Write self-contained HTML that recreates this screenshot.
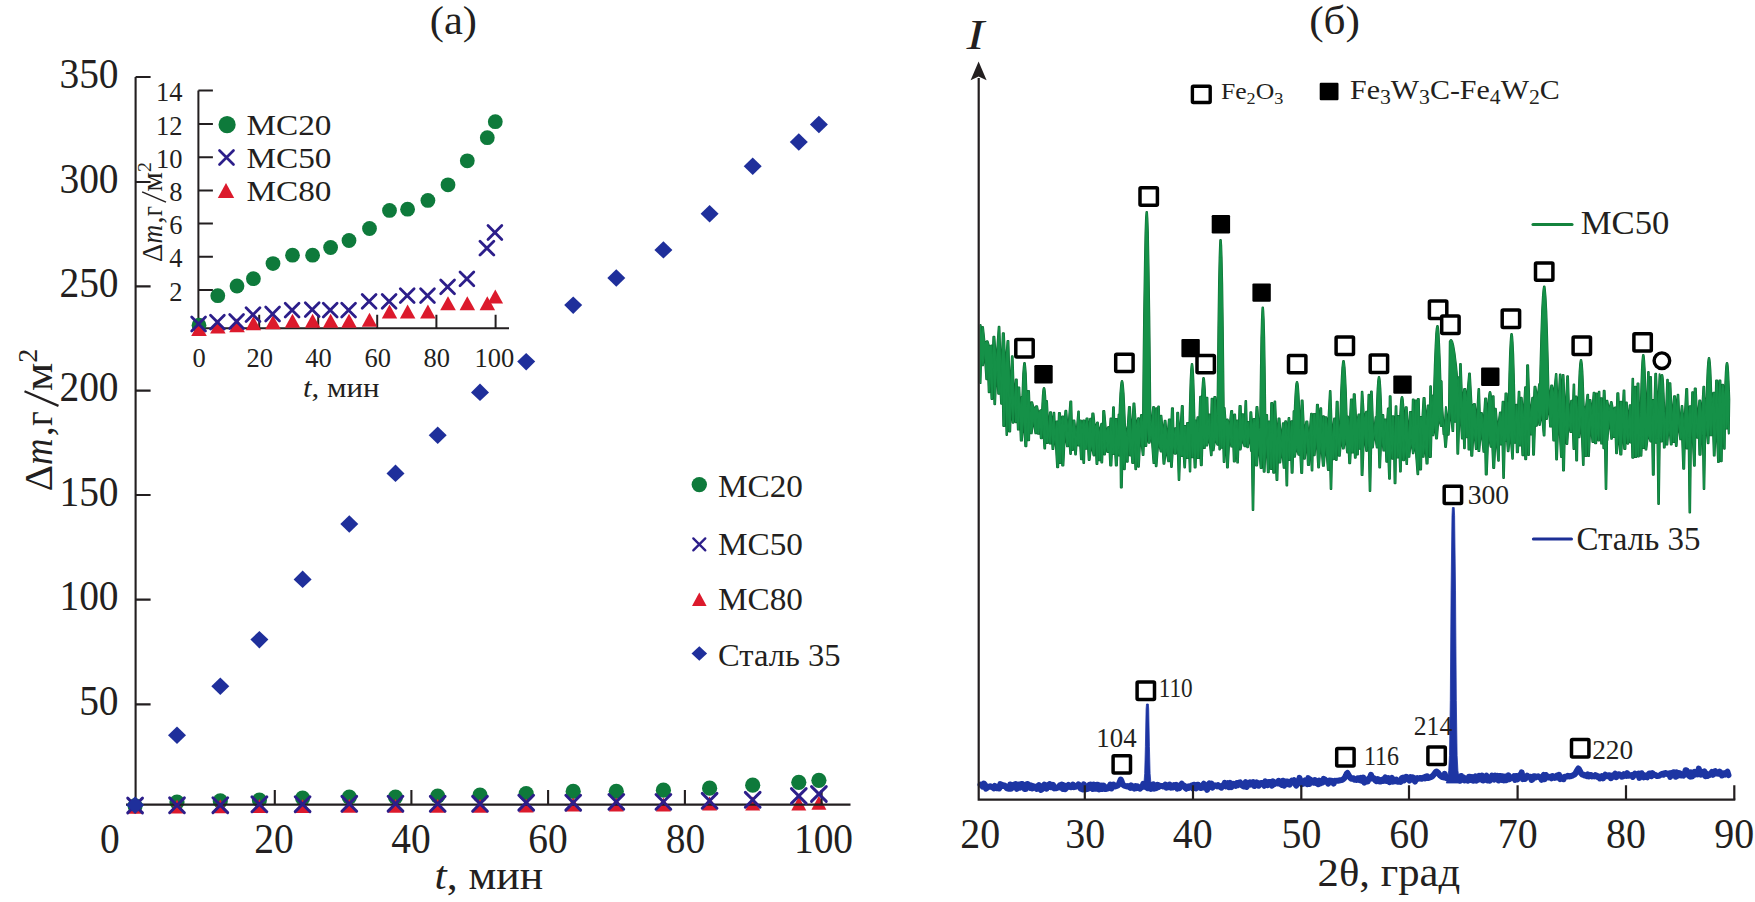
<!DOCTYPE html>
<html lang="ru"><head><meta charset="utf-8"><title>Figure</title>
<style>
html,body{margin:0;padding:0;background:#fff;}
body{width:1755px;height:902px;overflow:hidden;font-family:"Liberation Serif",serif;}
svg{display:block;}
svg text{font-family:"Liberation Serif", serif;fill:#231f20;}
</style></head><body>
<svg width="1755" height="902" viewBox="0 0 1755 902">
<rect width="1755" height="902" fill="#fff"/>
<g id="left">
<circle cx="135.1" cy="805.8" r="7.6" fill="#0e7a3b"/>
<circle cx="177.0" cy="802.1" r="7.6" fill="#0e7a3b"/>
<circle cx="220.3" cy="800.9" r="7.6" fill="#0e7a3b"/>
<circle cx="259.4" cy="800.0" r="7.6" fill="#0e7a3b"/>
<circle cx="302.6" cy="798.1" r="7.6" fill="#0e7a3b"/>
<circle cx="349.3" cy="797.1" r="7.6" fill="#0e7a3b"/>
<circle cx="395.5" cy="797.1" r="7.6" fill="#0e7a3b"/>
<circle cx="437.7" cy="796.1" r="7.6" fill="#0e7a3b"/>
<circle cx="480.0" cy="795.2" r="7.6" fill="#0e7a3b"/>
<circle cx="526.2" cy="793.7" r="7.6" fill="#0e7a3b"/>
<circle cx="573.2" cy="791.4" r="7.6" fill="#0e7a3b"/>
<circle cx="616.3" cy="791.3" r="7.6" fill="#0e7a3b"/>
<circle cx="663.4" cy="790.2" r="7.6" fill="#0e7a3b"/>
<circle cx="709.6" cy="788.2" r="7.6" fill="#0e7a3b"/>
<circle cx="752.7" cy="785.2" r="7.6" fill="#0e7a3b"/>
<circle cx="798.8" cy="782.3" r="7.6" fill="#0e7a3b"/>
<circle cx="818.9" cy="780.3" r="7.6" fill="#0e7a3b"/>
<path d="M135.1 799.8L142.6 813.8L127.6 813.8Z" fill="#dc1a2c"/>
<path d="M177.0 799.5L184.5 813.5L169.5 813.5Z" fill="#dc1a2c"/>
<path d="M220.3 799.3L227.8 813.3L212.8 813.3Z" fill="#dc1a2c"/>
<path d="M259.4 799.1L266.9 813.1L251.9 813.1Z" fill="#dc1a2c"/>
<path d="M302.6 799.0L310.1 813.0L295.1 813.0Z" fill="#dc1a2c"/>
<path d="M349.3 798.8L356.8 812.8L341.8 812.8Z" fill="#dc1a2c"/>
<path d="M395.5 798.8L403.0 812.8L388.0 812.8Z" fill="#dc1a2c"/>
<path d="M437.7 798.8L445.2 812.8L430.2 812.8Z" fill="#dc1a2c"/>
<path d="M480.0 798.8L487.5 812.8L472.5 812.8Z" fill="#dc1a2c"/>
<path d="M526.2 798.6L533.7 812.6L518.7 812.6Z" fill="#dc1a2c"/>
<path d="M573.2 797.6L580.7 811.6L565.7 811.6Z" fill="#dc1a2c"/>
<path d="M616.3 797.6L623.8 811.6L608.8 811.6Z" fill="#dc1a2c"/>
<path d="M663.4 797.6L670.9 811.6L655.9 811.6Z" fill="#dc1a2c"/>
<path d="M709.6 796.6L717.1 810.6L702.1 810.6Z" fill="#dc1a2c"/>
<path d="M752.7 796.6L760.2 810.6L745.2 810.6Z" fill="#dc1a2c"/>
<path d="M798.8 796.6L806.3 810.6L791.3 810.6Z" fill="#dc1a2c"/>
<path d="M818.9 795.7L826.4 809.7L811.4 809.7Z" fill="#dc1a2c"/>
<path d="M135.6 77V804.6M126 804.6H850.5" stroke="#231f20" stroke-width="2.1" fill="none"/>
<path d="M135.6 77h15M135.6 182h15M135.6 286.4h15M135.6 390.6h15M135.6 495h15M135.6 599.6h15M135.6 704.4h15" stroke="#231f20" stroke-width="2.1" fill="none"/>
<path d="M274.8 804.6v-14.5M411.4 804.6v-14.5M548.1 804.6v-14.5M684.9 804.6v-14.5M821.6 804.6v-14.5" stroke="#231f20" stroke-width="2.1" fill="none"/>
<path d="M127.7 798.1L142.5 812.9M127.7 812.9L142.5 798.1" stroke="#2c1e8a" stroke-width="2.9" fill="none" stroke-linecap="round"/>
<path d="M169.6 797.9L184.4 812.7M169.6 812.7L184.4 797.9" stroke="#2c1e8a" stroke-width="2.9" fill="none" stroke-linecap="round"/>
<path d="M212.9 797.8L227.7 812.6M212.9 812.6L227.7 797.8" stroke="#2c1e8a" stroke-width="2.9" fill="none" stroke-linecap="round"/>
<path d="M252.0 796.9L266.8 811.7M252.0 811.7L266.8 796.9" stroke="#2c1e8a" stroke-width="2.9" fill="none" stroke-linecap="round"/>
<path d="M295.2 796.8L310.0 811.6M295.2 811.6L310.0 796.8" stroke="#2c1e8a" stroke-width="2.9" fill="none" stroke-linecap="round"/>
<path d="M341.9 796.4L356.7 811.2M341.9 811.2L356.7 796.4" stroke="#2c1e8a" stroke-width="2.9" fill="none" stroke-linecap="round"/>
<path d="M388.1 796.3L402.9 811.1M388.1 811.1L402.9 796.3" stroke="#2c1e8a" stroke-width="2.9" fill="none" stroke-linecap="round"/>
<path d="M430.3 796.4L445.1 811.2M430.3 811.2L445.1 796.4" stroke="#2c1e8a" stroke-width="2.9" fill="none" stroke-linecap="round"/>
<path d="M472.6 796.4L487.4 811.2M472.6 811.2L487.4 796.4" stroke="#2c1e8a" stroke-width="2.9" fill="none" stroke-linecap="round"/>
<path d="M518.8 795.3L533.6 810.1M518.8 810.1L533.6 795.3" stroke="#2c1e8a" stroke-width="2.9" fill="none" stroke-linecap="round"/>
<path d="M565.8 795.3L580.6 810.1M565.8 810.1L580.6 795.3" stroke="#2c1e8a" stroke-width="2.9" fill="none" stroke-linecap="round"/>
<path d="M608.9 794.5L623.7 809.3M608.9 809.3L623.7 794.5" stroke="#2c1e8a" stroke-width="2.9" fill="none" stroke-linecap="round"/>
<path d="M656.0 794.5L670.8 809.3M656.0 809.3L670.8 794.5" stroke="#2c1e8a" stroke-width="2.9" fill="none" stroke-linecap="round"/>
<path d="M702.2 793.4L717.0 808.2M702.2 808.2L717.0 793.4" stroke="#2c1e8a" stroke-width="2.9" fill="none" stroke-linecap="round"/>
<path d="M745.3 792.4L760.1 807.2M745.3 807.2L760.1 792.4" stroke="#2c1e8a" stroke-width="2.9" fill="none" stroke-linecap="round"/>
<path d="M791.4 788.6L806.2 803.4M791.4 803.4L806.2 788.6" stroke="#2c1e8a" stroke-width="2.9" fill="none" stroke-linecap="round"/>
<path d="M811.5 786.6L826.3 801.4M811.5 801.4L826.3 786.6" stroke="#2c1e8a" stroke-width="2.9" fill="none" stroke-linecap="round"/>
<path d="M135.1 796.4L144.1 805.1L135.1 813.9L126.1 805.1Z" fill="#1f2f9b"/>
<path d="M177.0 726.5L186.0 735.2L177.0 744.0L168.0 735.2Z" fill="#1f2f9b"/>
<path d="M220.3 677.5L229.3 686.3L220.3 695.0L211.3 686.3Z" fill="#1f2f9b"/>
<path d="M259.4 630.9L268.4 639.6L259.4 648.4L250.4 639.6Z" fill="#1f2f9b"/>
<path d="M302.6 570.6L311.6 579.4L302.6 588.1L293.6 579.4Z" fill="#1f2f9b"/>
<path d="M349.3 515.2L358.3 524.0L349.3 532.8L340.3 524.0Z" fill="#1f2f9b"/>
<path d="M395.5 464.6L404.5 473.4L395.5 482.1L386.5 473.4Z" fill="#1f2f9b"/>
<path d="M437.7 426.6L446.7 435.3L437.7 444.1L428.7 435.3Z" fill="#1f2f9b"/>
<path d="M480.0 383.6L489.0 392.4L480.0 401.1L471.0 392.4Z" fill="#1f2f9b"/>
<path d="M526.2 352.9L535.2 361.6L526.2 370.4L517.2 361.6Z" fill="#1f2f9b"/>
<path d="M573.2 296.4L582.2 305.1L573.2 313.9L564.2 305.1Z" fill="#1f2f9b"/>
<path d="M616.3 269.2L625.3 278.0L616.3 286.8L607.3 278.0Z" fill="#1f2f9b"/>
<path d="M663.4 241.2L672.4 249.9L663.4 258.6L654.4 249.9Z" fill="#1f2f9b"/>
<path d="M709.6 205.1L718.6 213.8L709.6 222.6L700.6 213.8Z" fill="#1f2f9b"/>
<path d="M752.7 157.4L761.7 166.2L752.7 174.9L743.7 166.2Z" fill="#1f2f9b"/>
<path d="M798.8 133.3L807.8 142.1L798.8 150.8L789.8 142.1Z" fill="#1f2f9b"/>
<path d="M818.9 115.8L827.9 124.6L818.9 133.3L809.9 124.6Z" fill="#1f2f9b"/>
<text transform="translate(118.6,87.8) scale(0.94,1)" font-size="42" text-anchor="end">350</text>
<text transform="translate(118.6,192.8) scale(0.94,1)" font-size="42" text-anchor="end">300</text>
<text transform="translate(118.6,297.2) scale(0.94,1)" font-size="42" text-anchor="end">250</text>
<text transform="translate(118.6,401.40000000000003) scale(0.94,1)" font-size="42" text-anchor="end">200</text>
<text transform="translate(118.6,505.8) scale(0.94,1)" font-size="42" text-anchor="end">150</text>
<text transform="translate(118.6,610.4) scale(0.94,1)" font-size="42" text-anchor="end">100</text>
<text transform="translate(118.6,715.1999999999999) scale(0.94,1)" font-size="42" text-anchor="end">50</text>
<text transform="translate(109.8,853) scale(0.94,1)" font-size="42" text-anchor="middle">0</text>
<text transform="translate(274,853) scale(0.94,1)" font-size="42" text-anchor="middle">20</text>
<text transform="translate(411,853) scale(0.94,1)" font-size="42" text-anchor="middle">40</text>
<text transform="translate(548,853) scale(0.94,1)" font-size="42" text-anchor="middle">60</text>
<text transform="translate(685.5,853) scale(0.94,1)" font-size="42" text-anchor="middle">80</text>
<text transform="translate(823.5,853) scale(0.94,1)" font-size="42" text-anchor="middle">100</text>
<text transform="translate(453.4,34) scale(1.05,1)" font-size="40.5" text-anchor="middle">(a)</text>
<text x="434.5" y="888.5" font-size="40.5" textLength="108.8" lengthAdjust="spacingAndGlyphs"><tspan font-style="italic">t</tspan>, мин</text>
<g transform="translate(52.1,491.2) rotate(-90) scale(1)" font-size="40.8"><text x="0" y="0">Δ</text><text x="26.2" y="0" font-style="italic" textLength="26.5" lengthAdjust="spacingAndGlyphs">m</text><text x="54.9" y="0">,</text><text x="65.3" y="0" textLength="14.6" lengthAdjust="spacingAndGlyphs">г</text><path d="M85.3 6.4L99.9 -27.6" stroke="#231f20" stroke-width="2.3" fill="none"/><text x="100.2" y="0" textLength="28.2" lengthAdjust="spacingAndGlyphs">м</text><text x="128.4" y="-15.5" font-size="28.3">2</text></g>
<circle cx="699.3" cy="484.6" r="7.7" fill="#0e7a3b"/>
<path d="M693.3 538.4L705.3 550.4M693.3 550.4L705.3 538.4" stroke="#2c1e8a" stroke-width="2.3" fill="none" stroke-linecap="round"/>
<path d="M699.3 592.5L706.6 605.9L692.0 605.9Z" fill="#dc1a2c"/>
<path d="M699.3 646.2L707.1 653.5L699.3 660.8L691.5 653.5Z" fill="#1f2f9b"/>
<text x="718" y="497.4" font-size="32.5" text-anchor="start" textLength="85" lengthAdjust="spacingAndGlyphs">MC20</text>
<text x="718" y="555.4" font-size="32.5" text-anchor="start" textLength="85" lengthAdjust="spacingAndGlyphs">MC50</text>
<text x="718" y="610" font-size="32.5" text-anchor="start" textLength="85" lengthAdjust="spacingAndGlyphs">MC80</text>
<text x="718" y="665.5" font-size="32.5" text-anchor="start" textLength="122.5" lengthAdjust="spacingAndGlyphs">Сталь 35</text>
<path d="M198.4 90.6V328.3M194 328.3H509" stroke="#231f20" stroke-width="2" fill="none"/>
<path d="M198.4 90.6h14.5M198.4 123.9h14.5M198.4 157.2h14.5M198.4 190.4h14.5M198.4 223.6h14.5M198.4 256.8h14.5M198.4 290h14.5" stroke="#231f20" stroke-width="2" fill="none"/>
<path d="M259.2 328.3v-13.5M318.2 328.3v-13.5M377.2 328.3v-13.5M436.4 328.3v-13.5M495.6 328.3v-13.5" stroke="#231f20" stroke-width="2" fill="none"/>
<circle cx="199.0" cy="325.2" r="7.4" fill="#0e7a3b"/>
<circle cx="217.8" cy="295.7" r="7.4" fill="#0e7a3b"/>
<circle cx="237.0" cy="286.0" r="7.4" fill="#0e7a3b"/>
<circle cx="253.4" cy="278.7" r="7.4" fill="#0e7a3b"/>
<circle cx="273.0" cy="263.6" r="7.4" fill="#0e7a3b"/>
<circle cx="292.5" cy="255.2" r="7.4" fill="#0e7a3b"/>
<circle cx="312.6" cy="255.2" r="7.4" fill="#0e7a3b"/>
<circle cx="330.6" cy="247.5" r="7.4" fill="#0e7a3b"/>
<circle cx="349.0" cy="240.5" r="7.4" fill="#0e7a3b"/>
<circle cx="369.5" cy="228.5" r="7.4" fill="#0e7a3b"/>
<circle cx="389.5" cy="210.4" r="7.4" fill="#0e7a3b"/>
<circle cx="407.6" cy="209.2" r="7.4" fill="#0e7a3b"/>
<circle cx="427.9" cy="200.4" r="7.4" fill="#0e7a3b"/>
<circle cx="448.0" cy="184.8" r="7.4" fill="#0e7a3b"/>
<circle cx="467.3" cy="160.8" r="7.4" fill="#0e7a3b"/>
<circle cx="487.3" cy="137.7" r="7.4" fill="#0e7a3b"/>
<circle cx="495.3" cy="121.7" r="7.4" fill="#0e7a3b"/>
<path d="M199.0 322.0L206.8 336.0L191.2 336.0Z" fill="#dc1a2c"/>
<path d="M217.8 319.5L225.6 333.5L210.1 333.5Z" fill="#dc1a2c"/>
<path d="M237.0 318.2L244.8 332.2L229.2 332.2Z" fill="#dc1a2c"/>
<path d="M253.4 316.2L261.1 330.2L245.7 330.2Z" fill="#dc1a2c"/>
<path d="M273.0 315.2L280.8 329.2L265.2 329.2Z" fill="#dc1a2c"/>
<path d="M292.5 313.7L300.2 327.7L284.8 327.7Z" fill="#dc1a2c"/>
<path d="M312.6 313.7L320.4 327.7L304.9 327.7Z" fill="#dc1a2c"/>
<path d="M330.6 313.7L338.4 327.7L322.9 327.7Z" fill="#dc1a2c"/>
<path d="M349.0 313.7L356.8 327.7L341.2 327.7Z" fill="#dc1a2c"/>
<path d="M369.5 312.7L377.2 326.7L361.8 326.7Z" fill="#dc1a2c"/>
<path d="M389.5 304.4L397.2 318.4L381.8 318.4Z" fill="#dc1a2c"/>
<path d="M407.6 304.4L415.4 318.4L399.9 318.4Z" fill="#dc1a2c"/>
<path d="M427.9 304.4L435.6 318.4L420.1 318.4Z" fill="#dc1a2c"/>
<path d="M448.0 296.2L455.8 310.2L440.2 310.2Z" fill="#dc1a2c"/>
<path d="M467.3 296.2L475.1 310.2L459.6 310.2Z" fill="#dc1a2c"/>
<path d="M487.3 296.2L495.1 310.2L479.6 310.2Z" fill="#dc1a2c"/>
<path d="M495.3 289.4L503.1 303.4L487.6 303.4Z" fill="#dc1a2c"/>
<path d="M191.7 317.1L205.5 330.9M191.7 330.9L205.5 317.1" stroke="#2c1e8a" stroke-width="2.8" fill="none" stroke-linecap="round"/>
<path d="M210.5 315.3L224.3 329.1M210.5 329.1L224.3 315.3" stroke="#2c1e8a" stroke-width="2.8" fill="none" stroke-linecap="round"/>
<path d="M229.7 314.6L243.5 328.4M229.7 328.4L243.5 314.6" stroke="#2c1e8a" stroke-width="2.8" fill="none" stroke-linecap="round"/>
<path d="M246.1 307.8L259.9 321.6M246.1 321.6L259.9 307.8" stroke="#2c1e8a" stroke-width="2.8" fill="none" stroke-linecap="round"/>
<path d="M265.7 307.1L279.5 320.9M265.7 320.9L279.5 307.1" stroke="#2c1e8a" stroke-width="2.8" fill="none" stroke-linecap="round"/>
<path d="M285.2 303.3L299.0 317.1M285.2 317.1L299.0 303.3" stroke="#2c1e8a" stroke-width="2.8" fill="none" stroke-linecap="round"/>
<path d="M305.3 302.8L319.1 316.6M305.3 316.6L319.1 302.8" stroke="#2c1e8a" stroke-width="2.8" fill="none" stroke-linecap="round"/>
<path d="M323.3 303.3L337.1 317.1M323.3 317.1L337.1 303.3" stroke="#2c1e8a" stroke-width="2.8" fill="none" stroke-linecap="round"/>
<path d="M341.7 303.3L355.5 317.1M341.7 317.1L355.5 303.3" stroke="#2c1e8a" stroke-width="2.8" fill="none" stroke-linecap="round"/>
<path d="M362.2 294.5L376.0 308.3M362.2 308.3L376.0 294.5" stroke="#2c1e8a" stroke-width="2.8" fill="none" stroke-linecap="round"/>
<path d="M382.2 294.5L396.0 308.3M382.2 308.3L396.0 294.5" stroke="#2c1e8a" stroke-width="2.8" fill="none" stroke-linecap="round"/>
<path d="M400.3 288.8L414.1 302.6M400.3 302.6L414.1 288.8" stroke="#2c1e8a" stroke-width="2.8" fill="none" stroke-linecap="round"/>
<path d="M420.6 288.8L434.4 302.6M420.6 302.6L434.4 288.8" stroke="#2c1e8a" stroke-width="2.8" fill="none" stroke-linecap="round"/>
<path d="M440.7 280.0L454.5 293.8M440.7 293.8L454.5 280.0" stroke="#2c1e8a" stroke-width="2.8" fill="none" stroke-linecap="round"/>
<path d="M460.0 272.0L473.8 285.8M460.0 285.8L473.8 272.0" stroke="#2c1e8a" stroke-width="2.8" fill="none" stroke-linecap="round"/>
<path d="M480.0 241.3L493.8 255.1M480.0 255.1L493.8 241.3" stroke="#2c1e8a" stroke-width="2.8" fill="none" stroke-linecap="round"/>
<path d="M488.0 225.6L501.8 239.4M488.0 239.4L501.8 225.6" stroke="#2c1e8a" stroke-width="2.8" fill="none" stroke-linecap="round"/>
<text x="182.4" y="101.19999999999999" font-size="26.5" text-anchor="end">14</text>
<text x="182.4" y="134.5" font-size="26.5" text-anchor="end">12</text>
<text x="182.4" y="167.79999999999998" font-size="26.5" text-anchor="end">10</text>
<text x="182.4" y="201.0" font-size="26.5" text-anchor="end">8</text>
<text x="182.4" y="234.2" font-size="26.5" text-anchor="end">6</text>
<text x="182.4" y="267.40000000000003" font-size="26.5" text-anchor="end">4</text>
<text x="182.4" y="300.6" font-size="26.5" text-anchor="end">2</text>
<text x="199" y="367.4" font-size="26.5" text-anchor="middle">0</text>
<text x="259.7" y="367.4" font-size="26.5" text-anchor="middle">20</text>
<text x="318.6" y="367.4" font-size="26.5" text-anchor="middle">40</text>
<text x="377.8" y="367.4" font-size="26.5" text-anchor="middle">60</text>
<text x="436.7" y="367.4" font-size="26.5" text-anchor="middle">80</text>
<text x="494.3" y="367.4" font-size="26.5" text-anchor="middle">100</text>
<text x="303" y="397.4" font-size="27.5" textLength="76.4" lengthAdjust="spacingAndGlyphs"><tspan font-style="italic">t</tspan>, мин</text>
<g transform="translate(161.5,262.0) rotate(-90) scale(0.702)" font-size="40.8"><text x="0" y="0">Δ</text><text x="26.2" y="0" font-style="italic" textLength="26.5" lengthAdjust="spacingAndGlyphs">m</text><text x="54.9" y="0">,</text><text x="65.3" y="0" textLength="14.6" lengthAdjust="spacingAndGlyphs">г</text><path d="M85.3 6.4L99.9 -27.6" stroke="#231f20" stroke-width="2.3" fill="none"/><text x="100.2" y="0" textLength="28.2" lengthAdjust="spacingAndGlyphs">м</text><text x="128.4" y="-15.5" font-size="28.3">2</text></g>
<circle cx="227.1" cy="124.7" r="8.6" fill="#0e7a3b"/>
<path d="M219.5 150.5L233.5 164.5M219.5 164.5L233.5 150.5" stroke="#2c1e8a" stroke-width="2.7" fill="none" stroke-linecap="round"/>
<path d="M226.0 183.0L234.2 198.0L217.8 198.0Z" fill="#dc1a2c"/>
<text x="246.5" y="134.7" font-size="30" text-anchor="start" textLength="85" lengthAdjust="spacingAndGlyphs">MC20</text>
<text x="246.5" y="168" font-size="30" text-anchor="start" textLength="85" lengthAdjust="spacingAndGlyphs">MC50</text>
<text x="246.5" y="201.3" font-size="30" text-anchor="start" textLength="85" lengthAdjust="spacingAndGlyphs">MC80</text>
</g>
<g id="right">
<path d="M980.6 325.1L981.4 338.2L982.5 327.0L983.0 327.0L984.7 343.6L986.6 341.3L987.6 341.3L989.1 346.2L991.1 345.6L991.6 345.6L992.4 364.4L993.4 336.8L994.4 336.8L996.2 364.2L998.7 326.8L999.4 326.8L1001.1 376.9L1002.8 333.2L1003.9 333.2L1005.5 369.7L1007.5 341.0L1008.4 341.0L1010.0 397.6L1011.9 356.2L1012.6 356.2L1014.2 403.7L1015.8 379.6L1016.8 379.6L1017.4 406.7L1018.1 387.4L1019.3 387.4L1020.2 408.3L1021.7 396.8L1022.1 406.7L1022.4 395.8L1022.8 384.8L1023.2 373.9L1023.7 367.4L1024.0 364.3L1024.2 363.0L1024.8 363.0L1025.0 364.3L1025.3 367.4L1025.8 373.9L1026.2 384.8L1026.6 395.8L1026.9 406.7L1027.9 390.9L1029.0 390.9L1029.8 413.9L1031.2 402.3L1032.2 402.3L1033.9 409.3L1036.1 406.2L1037.1 406.2L1038.5 413.6L1040.4 410.3L1041.5 410.3L1041.7 419.0L1042.0 411.2L1042.4 403.5L1042.8 395.8L1043.2 391.1L1043.5 388.9L1043.8 388.0L1044.2 388.0L1044.5 388.9L1044.8 391.1L1045.2 395.8L1045.6 403.5L1046.0 411.2L1046.3 419.0L1046.3 401.1L1047.0 401.1L1048.5 432.4L1050.0 412.2L1051.1 412.2L1052.1 430.0L1053.7 412.8L1054.3 412.8L1055.2 434.8L1056.4 421.5L1057.4 421.5L1058.2 430.5L1058.9 413.1L1060.0 413.1L1060.8 425.8L1062.2 416.6L1063.3 416.6L1064.0 425.8L1065.4 410.8L1066.3 410.8L1068.0 432.8L1070.3 401.5L1071.3 401.5L1072.1 432.6L1073.5 420.5L1074.4 420.5L1076.1 437.3L1078.3 411.4L1078.8 411.4L1079.5 434.3L1080.2 420.6L1081.0 420.6L1082.0 429.4L1083.1 420.4L1084.3 420.4L1085.2 427.9L1086.5 418.4L1087.6 418.4L1088.5 432.3L1090.1 418.8L1090.8 418.8L1091.5 433.5L1092.3 413.5L1093.5 413.5L1094.9 428.4L1097.1 422.5L1097.8 422.5L1099.4 433.6L1101.3 423.8L1101.9 423.8L1102.6 440.5L1103.2 411.1L1104.3 411.1L1106.1 432.0L1108.1 427.0L1108.8 427.0L1109.5 435.1L1110.5 418.6L1111.3 418.6L1112.2 435.0L1113.1 407.3L1113.9 407.3L1114.8 444.0L1115.7 419.0L1116.8 419.0L1117.6 434.9L1118.6 414.6L1118.8 430.2L1119.3 417.9L1119.8 405.6L1120.4 393.3L1121.0 385.9L1121.4 382.5L1121.8 381.0L1122.2 381.0L1122.6 382.5L1123.0 385.9L1123.6 393.3L1124.2 405.6L1124.7 417.9L1125.2 430.2L1125.3 426.4L1127.1 436.9L1128.9 407.0L1130.0 407.0L1131.5 438.8L1133.5 403.4L1134.4 403.4L1136.1 427.5L1138.0 418.2L1138.9 418.2L1139.8 430.5L1141.0 415.1L1141.7 415.1L1142.6 425.0L1143.0 420.2L1143.5 368.1L1144.1 316.1L1144.9 264.0L1145.5 232.8L1146.0 218.2L1146.5 212.0L1147.0 212.0L1147.4 218.2L1147.9 232.8L1148.5 264.0L1149.3 316.1L1149.9 368.1L1150.4 420.2L1151.2 427.9L1153.1 407.0L1154.0 407.0L1154.6 437.4L1155.9 408.3L1156.5 408.3L1157.3 438.0L1158.2 406.5L1158.9 406.5L1159.8 440.7L1160.8 415.7L1161.4 415.7L1163.0 434.5L1164.7 420.7L1165.5 420.7L1167.1 440.4L1168.9 419.4L1170.0 419.4L1170.7 438.7L1171.9 408.3L1173.0 408.3L1173.7 443.2L1175.1 428.2L1175.8 428.2L1176.5 436.7L1177.2 412.7L1178.2 412.7L1179.7 440.6L1181.8 406.1L1182.8 406.1L1183.6 437.6L1184.6 426.0L1185.5 426.0L1186.3 442.9L1187.0 423.0L1188.2 423.0L1189.3 428.6L1189.7 412.5L1190.1 396.3L1190.6 380.2L1191.1 370.5L1191.5 365.9L1191.8 364.0L1192.2 364.0L1192.5 365.9L1192.9 370.5L1193.4 380.2L1193.9 396.3L1194.3 412.5L1194.7 428.6L1195.0 420.5L1195.7 420.5L1196.4 427.1L1197.5 417.2L1198.0 417.2L1198.9 431.8L1200.1 396.8L1201.0 396.8L1201.2 426.2L1201.5 414.1L1201.9 402.1L1202.3 390.0L1202.8 382.8L1203.1 379.4L1203.3 378.0L1203.8 378.0L1204.1 379.4L1204.4 382.8L1204.9 390.0L1205.3 402.1L1205.7 414.1L1206.0 426.2L1206.3 397.8L1207.4 397.8L1208.1 426.3L1209.1 414.6L1209.8 414.6L1210.7 437.2L1211.6 398.7L1212.5 398.7L1213.3 432.4L1214.3 397.1L1215.4 397.1L1217.2 426.5L1217.4 415.6L1217.9 371.7L1218.4 327.8L1219.0 283.9L1219.6 257.6L1220.0 245.3L1220.3 240.0L1220.8 240.0L1221.2 245.3L1221.6 257.6L1222.2 283.9L1222.8 327.8L1223.3 371.7L1223.8 415.6L1224.6 407.9L1225.6 421.4L1227.2 419.4L1227.7 419.4L1229.5 427.1L1231.1 411.0L1232.2 411.0L1233.0 437.9L1234.3 414.5L1235.1 414.5L1235.9 429.1L1236.9 420.5L1237.5 420.5L1238.4 438.2L1239.5 405.9L1240.7 405.9L1241.3 424.8L1242.4 414.2L1243.2 414.2L1244.2 435.0L1245.5 401.1L1246.1 401.1L1247.0 430.3L1247.8 421.9L1248.6 421.9L1249.5 436.3L1250.4 412.3L1251.3 412.3L1252.3 428.1L1253.6 418.9L1254.6 418.9L1255.5 426.5L1256.5 406.9L1257.4 406.9L1259.1 430.8L1260.1 427.9L1260.5 397.8L1260.9 367.7L1261.4 337.6L1261.9 319.5L1262.3 311.1L1262.5 307.5L1263.0 307.5L1263.3 311.1L1263.7 319.5L1264.2 337.6L1264.7 367.7L1265.1 397.8L1265.5 427.9L1266.3 414.9L1267.1 414.9L1267.9 439.8L1268.7 421.5L1269.8 421.5L1270.5 433.6L1271.2 403.1L1272.4 403.1L1273.2 434.3L1274.6 401.4L1275.2 401.4L1276.8 440.3L1278.5 418.4L1279.5 418.4L1281.1 442.1L1282.9 423.2L1283.6 423.2L1284.3 436.1L1285.2 421.3L1286.1 421.3L1287.1 435.7L1288.6 418.0L1289.3 418.0L1290.1 441.6L1291.3 421.3L1292.1 421.3L1292.9 440.1L1293.6 411.2L1294.1 428.6L1294.5 417.0L1294.9 405.3L1295.5 393.7L1296.0 386.7L1296.4 383.4L1296.8 382.0L1297.2 382.0L1297.6 383.4L1298.0 386.7L1298.5 393.7L1299.1 405.3L1299.5 417.0L1299.9 428.6L1300.5 435.4L1301.6 400.6L1302.6 400.6L1304.2 434.1L1306.3 421.5L1307.4 421.5L1309.0 439.6L1311.1 413.7L1311.9 413.7L1312.8 434.9L1313.8 413.9L1315.0 413.9L1315.8 430.4L1316.9 404.8L1318.0 404.8L1319.0 428.6L1320.4 408.3L1321.2 408.3L1321.9 434.2L1323.1 416.3L1323.9 416.3L1324.6 437.5L1325.2 417.2L1326.3 417.2L1327.8 431.0L1329.9 391.0L1330.5 391.0L1332.1 440.0L1334.1 418.6L1334.7 418.6L1335.6 437.5L1336.6 401.8L1337.7 401.8L1338.6 437.8L1340.1 423.8L1340.6 408.1L1341.1 392.4L1341.8 376.7L1342.4 367.3L1342.9 362.9L1343.2 361.0L1343.8 361.0L1344.1 362.9L1344.6 367.3L1345.2 376.7L1345.9 392.4L1346.4 408.1L1346.9 423.8L1347.1 416.5L1348.0 416.5L1349.5 429.9L1350.9 399.5L1352.1 399.5L1352.9 429.7L1353.7 394.2L1354.8 394.2L1356.5 425.6L1358.5 414.5L1359.7 414.5L1360.5 429.4L1361.8 391.7L1362.4 391.7L1364.1 420.4L1366.1 411.7L1366.9 411.7L1367.5 431.8L1368.5 394.7L1369.1 394.7L1369.8 424.8L1371.0 391.6L1371.8 391.6L1373.5 437.6L1375.6 417.1L1376.2 417.1L1376.3 424.1L1376.7 412.3L1377.1 400.6L1377.6 388.8L1378.1 381.7L1378.5 378.4L1378.8 377.0L1379.2 377.0L1379.5 378.4L1379.9 381.7L1380.4 388.8L1380.9 400.6L1381.3 412.3L1381.7 424.1L1382.3 415.1L1383.3 415.1L1384.0 431.0L1384.8 419.5L1385.8 419.5L1386.5 430.0L1387.9 408.6L1388.5 408.6L1389.1 438.2L1389.7 396.3L1390.6 396.3L1391.5 434.1L1392.7 416.3L1393.5 416.3L1394.4 443.5L1395.7 406.3L1396.4 406.3L1397.2 444.2L1397.8 416.0L1398.9 416.0L1399.7 426.2L1400.0 418.9L1400.4 411.6L1400.8 404.3L1401.2 399.9L1401.5 397.9L1401.8 397.0L1402.2 397.0L1402.5 397.9L1402.8 399.9L1403.2 404.3L1403.6 411.6L1404.0 418.9L1404.3 426.2L1404.7 435.5L1405.6 407.2L1406.7 407.2L1408.3 439.3L1409.9 412.1L1411.1 412.1L1411.8 435.4L1412.8 399.5L1413.7 399.5L1414.5 426.3L1415.4 400.5L1416.3 400.5L1417.0 426.2L1417.8 398.9L1418.8 398.9L1419.5 428.3L1420.2 417.1L1421.4 417.1L1422.2 421.1L1423.5 398.1L1424.6 398.1L1426.0 425.4L1427.7 405.6L1428.6 405.6L1429.3 430.8L1430.3 386.2L1430.9 386.2L1431.9 417.9L1432.9 395.4L1433.8 404.9L1434.2 385.2L1434.8 365.5L1435.6 345.7L1436.2 333.9L1436.7 328.4L1437.2 326.0L1437.7 326.0L1438.1 328.4L1438.6 333.9L1439.2 345.7L1440.0 365.5L1440.6 385.2L1441.1 404.9L1441.6 381.2L1442.2 407.0L1445.2 447.0L1446.0 447.0L1449.0 407.0L1449.8 341.6L1450.8 340.0L1451.2 340.0L1452.2 341.6L1453.2 345.2L1454.5 352.9L1456.1 365.9L1457.3 378.8L1458.3 391.8L1458.6 377.3L1459.3 412.7L1460.1 363.9L1460.8 363.9L1462.3 407.4L1464.1 389.0L1465.3 389.0L1466.8 400.7L1469.1 373.6L1469.9 373.6L1471.7 407.5L1473.8 403.9L1474.9 403.9L1476.5 423.9L1478.5 389.1L1479.1 389.1L1480.0 419.4L1480.9 412.9L1481.9 412.9L1483.3 427.7L1485.1 398.5L1486.2 398.5L1487.6 421.1L1487.9 413.8L1488.3 406.6L1488.7 399.3L1489.2 394.9L1489.5 392.9L1489.8 392.0L1490.2 392.0L1490.5 392.9L1490.8 394.9L1491.3 399.3L1491.7 406.6L1492.1 413.8L1492.4 421.1L1492.9 396.2L1493.6 396.2L1494.3 424.9L1495.1 408.7L1495.8 408.7L1497.6 430.6L1499.9 412.6L1500.7 412.6L1501.7 421.3L1502.6 401.7L1503.6 401.7L1504.5 427.8L1505.5 393.4L1506.7 393.4L1507.4 425.1L1508.2 402.2L1508.4 414.2L1508.9 394.1L1509.4 374.1L1510.0 354.0L1510.6 342.0L1511.0 336.4L1511.3 334.0L1511.8 334.0L1512.2 336.4L1512.6 342.0L1513.2 354.0L1513.8 374.1L1514.3 394.1L1514.8 414.2L1515.2 428.7L1516.1 404.8L1516.6 404.8L1517.6 418.9L1518.7 391.7L1519.4 391.7L1520.1 427.8L1521.1 397.8L1521.7 397.8L1523.4 419.6L1525.1 387.3L1525.7 387.3L1526.4 413.8L1527.1 365.3L1528.1 365.3L1529.9 418.0L1532.3 397.7L1532.9 397.7L1533.7 405.0L1534.5 386.8L1535.5 386.8L1537.2 399.7L1539.2 384.0L1540.0 384.0L1540.0 385.2L1540.6 360.6L1541.3 335.9L1542.1 311.2L1542.9 296.4L1543.5 289.5L1544.0 286.5L1544.5 286.5L1544.9 289.5L1545.5 296.4L1546.3 311.2L1547.1 335.9L1547.8 360.6L1548.4 385.2L1549.6 403.7L1551.2 385.6L1552.2 385.6L1553.9 395.7L1555.9 374.0L1556.4 374.0L1557.9 412.3L1559.9 374.4L1560.5 374.4L1561.5 413.6L1562.8 375.0L1563.5 375.0L1565.3 421.6L1567.2 376.2L1568.0 376.2L1569.4 422.0L1571.1 400.8L1572.0 400.8L1572.6 415.7L1573.6 384.5L1574.2 384.5L1574.9 420.7L1575.8 396.6L1576.5 396.6L1578.0 419.5L1578.3 405.5L1578.7 394.1L1579.1 382.7L1579.6 371.4L1580.1 364.5L1580.5 361.4L1580.8 360.0L1581.2 360.0L1581.5 361.4L1581.9 364.5L1582.4 371.4L1582.9 382.7L1583.3 394.1L1583.7 405.5L1585.3 412.6L1587.4 394.7L1588.1 394.7L1588.9 422.0L1589.9 400.0L1590.5 400.0L1592.0 415.1L1593.6 392.7L1594.6 392.7L1595.4 413.1L1596.3 393.5L1597.1 393.5L1597.7 422.7L1598.8 391.7L1599.4 391.7L1600.1 419.6L1601.0 398.3L1601.8 398.3L1602.7 421.1L1603.7 390.8L1604.6 390.8L1605.4 411.5L1606.6 400.8L1607.4 400.8L1609.0 410.8L1611.0 402.0L1611.6 402.0L1613.2 410.8L1614.9 407.4L1615.6 407.4L1616.4 421.2L1617.3 393.2L1618.4 393.2L1619.2 414.5L1620.5 401.7L1621.5 401.7L1622.4 417.3L1623.6 390.6L1624.4 390.6L1625.1 420.1L1626.2 402.5L1626.8 402.5L1628.3 425.1L1629.7 405.2L1630.5 405.2L1631.4 429.8L1632.5 378.7L1633.1 378.7L1633.9 431.0L1634.9 386.7L1635.7 386.7L1636.4 417.7L1637.5 383.4L1638.5 383.4L1639.3 423.3L1640.6 412.8L1641.0 398.4L1641.4 383.9L1641.9 369.5L1642.4 360.8L1642.8 356.7L1643.0 355.0L1643.5 355.0L1643.8 356.7L1644.2 360.8L1644.7 369.5L1645.2 383.9L1645.6 398.4L1646.0 412.8L1646.7 417.3L1648.1 372.0L1648.7 372.0L1649.4 416.1L1650.4 376.9L1651.0 376.9L1651.8 422.2L1652.7 400.1L1653.4 400.1L1654.2 412.7L1655.3 373.8L1656.1 373.8L1657.8 414.8L1659.6 374.3L1659.7 411.8L1660.0 402.6L1660.4 393.4L1660.8 384.2L1661.2 378.7L1661.5 376.1L1661.8 375.0L1662.2 375.0L1662.5 376.1L1662.8 378.7L1663.2 384.2L1663.6 393.4L1664.0 402.6L1664.3 411.8L1665.6 423.8L1667.2 379.7L1667.8 379.7L1668.6 426.8L1669.3 383.2L1670.4 383.2L1672.0 421.2L1674.0 396.2L1675.1 396.2L1676.0 414.0L1677.7 394.7L1678.3 394.7L1679.8 428.3L1681.7 405.9L1682.3 405.9L1684.1 428.9L1686.2 389.1L1687.2 389.1L1688.2 422.8L1689.7 406.2L1690.6 406.2L1691.4 422.2L1692.2 392.2L1693.0 392.2L1693.8 422.0L1694.7 388.4L1695.8 388.4L1697.3 423.4L1699.3 400.6L1700.3 400.6L1701.7 417.2L1703.4 386.7L1704.2 386.7L1704.9 415.9L1706.1 398.5L1706.3 406.3L1706.7 394.2L1707.1 382.2L1707.6 370.1L1708.1 362.8L1708.5 359.4L1708.8 358.0L1709.2 358.0L1709.5 359.4L1709.9 362.8L1710.4 370.1L1710.9 382.2L1711.3 394.2L1711.7 406.3L1713.3 392.7L1714.5 392.7L1715.2 413.8L1716.1 380.5L1717.2 380.5L1718.1 408.1L1719.4 380.5L1720.4 380.5L1721.2 402.7L1722.2 384.8L1723.1 384.8L1724.7 399.6L1725.0 390.5L1725.4 381.3L1725.8 372.2L1726.2 366.7L1726.5 364.1L1726.8 363.0L1727.2 363.0L1727.5 364.1L1727.8 366.7L1728.2 372.2L1728.6 381.3L1729.0 390.5L1729.3 399.6L1728.8 433.6L1727.7 416.9L1727.0 428.6L1726.0 428.6L1725.3 405.5L1724.7 448.7L1724.1 448.7L1722.6 413.5L1721.7 461.3L1720.9 461.3L1719.7 418.6L1718.9 462.1L1718.1 462.1L1716.1 418.6L1714.6 455.6L1713.8 455.6L1712.5 412.8L1711.6 435.3L1710.4 435.3L1709.3 419.9L1708.5 443.2L1707.8 443.2L1705.6 415.4L1705.2 435.4L1704.3 489.0L1703.7 489.0L1702.8 435.4L1701.5 427.0L1700.6 454.7L1699.4 454.7L1698.6 428.7L1697.7 437.7L1697.0 437.7L1695.6 418.0L1694.8 465.8L1694.0 465.8L1691.8 418.6L1691.0 437.3L1690.1 512.5L1689.5 512.5L1688.6 437.3L1688.1 432.1L1687.2 448.4L1686.5 448.4L1685.1 430.1L1684.2 468.8L1683.2 468.8L1681.9 431.4L1681.1 439.3L1680.2 439.3L1678.2 420.1L1676.6 445.9L1675.9 445.9L1674.7 429.1L1674.0 442.0L1673.4 442.0L1672.3 426.4L1671.7 444.5L1670.8 444.5L1669.0 423.2L1667.3 444.6L1666.5 444.6L1665.4 419.0L1664.7 447.6L1663.9 447.6L1662.7 415.4L1661.9 441.5L1661.1 441.5L1660.1 431.4L1659.8 438.6L1658.9 504.0L1658.3 504.0L1657.4 438.6L1657.2 422.2L1656.5 442.7L1655.4 442.7L1654.5 419.9L1653.8 474.8L1652.8 474.8L1651.9 423.7L1651.1 441.4L1650.4 441.4L1648.1 434.2L1646.3 449.6L1645.6 449.6L1644.6 428.2L1643.9 448.0L1642.9 448.0L1642.2 436.3L1641.4 455.8L1640.8 455.8L1639.7 429.1L1638.9 456.5L1638.0 456.5L1637.0 433.5L1636.3 456.9L1635.1 456.9L1634.1 419.2L1633.4 457.8L1632.3 457.8L1631.6 427.8L1630.9 442.4L1630.1 442.4L1629.0 427.4L1628.1 443.7L1627.6 443.7L1626.1 430.1L1625.4 448.9L1624.2 448.9L1622.7 422.4L1621.4 454.5L1620.2 454.5L1618.6 429.1L1617.0 453.3L1616.1 453.3L1615.1 420.6L1614.5 436.9L1613.5 436.9L1612.7 425.9L1611.9 438.8L1611.3 438.8L1609.2 416.7L1607.5 440.3L1607.2 436.1L1606.3 489.0L1605.7 489.0L1604.8 436.1L1604.4 448.2L1603.4 448.2L1602.6 416.8L1601.9 443.6L1601.2 443.6L1599.9 413.2L1599.0 440.6L1598.4 440.6L1597.0 428.8L1596.2 443.2L1595.0 443.2L1594.3 415.5L1593.6 441.9L1592.4 441.9L1590.6 421.1L1588.9 456.1L1588.3 456.1L1587.1 416.4L1586.4 456.0L1585.2 456.0L1584.4 412.5L1583.6 465.0L1583.0 465.0L1581.1 415.9L1579.5 437.2L1578.8 437.2L1577.8 414.4L1577.1 460.4L1576.2 460.4L1575.1 415.3L1574.1 448.9L1573.5 448.9L1572.3 414.6L1571.6 432.0L1570.4 432.0L1568.8 420.3L1567.3 443.9L1566.6 443.9L1565.0 425.6L1564.0 470.6L1563.0 470.6L1562.3 421.4L1561.5 457.0L1561.0 457.0L1558.7 411.1L1557.0 459.4L1556.2 459.4L1555.1 421.2L1554.4 440.5L1553.3 440.5L1552.2 413.9L1551.3 426.6L1550.1 426.6L1548.7 401.1L1547.0 418.9L1546.5 418.9L1545.3 403.4L1544.5 435.5L1543.7 435.5L1541.6 410.6L1539.9 425.0L1539.3 425.0L1537.9 411.1L1536.9 425.8L1536.0 425.8L1535.0 425.1L1534.0 454.7L1533.1 454.7L1532.3 415.6L1531.5 434.5L1531.0 434.5L1529.8 421.5L1529.0 455.0L1528.2 455.0L1527.0 429.2L1526.2 459.2L1525.2 459.2L1524.2 423.4L1523.4 455.2L1522.4 455.2L1521.5 435.4L1520.8 445.4L1519.8 445.4L1518.8 433.4L1518.0 452.2L1516.8 452.2L1516.0 422.3L1515.2 442.8L1514.6 442.8L1513.7 431.0L1512.8 458.8L1512.3 458.8L1510.2 430.6L1508.5 451.2L1507.8 451.2L1506.6 434.3L1505.8 441.0L1505.1 441.0L1504.8 441.9L1503.9 478.0L1503.3 478.0L1502.4 441.9L1502.1 436.2L1501.3 444.4L1500.5 444.4L1499.5 423.0L1498.8 460.7L1498.2 460.7L1495.9 431.9L1494.2 467.9L1493.2 467.9L1492.0 439.9L1491.1 446.7L1490.6 446.7L1488.4 432.1L1486.8 474.5L1485.7 474.5L1484.9 432.6L1484.2 451.8L1483.5 451.8L1481.2 428.0L1479.3 451.1L1478.5 451.1L1477.4 426.1L1476.4 449.1L1475.9 449.1L1473.8 426.8L1472.3 455.7L1471.2 455.7L1470.2 417.6L1469.5 449.6L1468.5 449.6L1467.9 412.2L1467.3 437.3L1466.4 437.3L1465.4 417.7L1464.8 448.2L1464.1 448.2L1463.2 419.2L1462.4 438.5L1461.9 438.5L1459.8 404.1L1458.2 453.7L1457.4 453.7L1456.4 401.3L1455.7 421.7L1454.8 421.7L1454.0 403.7L1453.2 431.1L1452.5 431.1L1450.4 407.3L1448.7 434.7L1448.1 434.7L1445.9 407.1L1444.3 434.1L1443.5 434.1L1442.5 416.5L1441.8 426.1L1440.8 426.1L1438.7 416.5L1437.0 438.4L1436.0 438.4L1434.7 422.0L1433.3 435.3L1432.7 435.3L1431.6 428.2L1430.9 457.1L1429.8 457.1L1428.5 426.9L1427.6 463.6L1426.5 463.6L1425.1 439.6L1423.6 456.8L1422.9 456.8L1421.8 427.8L1421.1 469.6L1420.1 469.6L1418.9 428.0L1418.2 474.2L1417.5 474.2L1415.2 442.4L1413.4 453.3L1412.9 453.3L1411.0 439.1L1409.4 456.8L1408.4 456.8L1407.8 443.9L1407.0 464.1L1406.5 464.1L1404.9 438.8L1404.1 460.3L1403.1 460.3L1401.7 435.5L1400.8 471.6L1400.1 471.6L1399.0 442.3L1398.1 457.5L1397.3 457.5L1396.3 433.9L1395.5 483.2L1394.6 483.2L1393.7 431.3L1392.7 458.7L1392.2 458.7L1390.7 440.8L1389.9 478.7L1389.1 478.7L1387.8 444.7L1386.9 461.7L1386.3 461.7L1385.1 431.5L1384.4 450.6L1383.4 450.6L1381.5 432.1L1380.1 467.4L1379.3 467.4L1378.2 427.6L1377.4 447.4L1376.7 447.4L1374.7 431.6L1372.9 447.4L1371.9 447.4L1371.2 447.6L1370.3 491.0L1369.7 491.0L1368.8 447.6L1367.9 426.7L1366.9 450.9L1366.2 450.9L1364.2 430.2L1362.5 475.1L1361.6 475.1L1360.9 431.3L1360.1 448.7L1359.4 448.7L1358.6 427.2L1357.9 454.4L1357.2 454.4L1356.4 437.2L1355.7 457.8L1354.9 457.8L1353.7 435.3L1353.1 452.4L1351.9 452.4L1351.1 445.1L1350.2 463.2L1349.2 463.2L1348.3 441.7L1347.7 452.5L1347.1 452.5L1345.3 436.2L1343.8 448.5L1342.9 448.5L1341.3 436.7L1339.8 455.8L1338.8 455.8L1337.6 437.9L1336.7 460.0L1335.9 460.0L1334.9 435.6L1334.0 459.2L1333.2 459.2L1332.2 449.6L1331.3 489.0L1330.7 489.0L1329.8 449.6L1329.6 444.0L1328.9 470.0L1327.9 470.0L1325.7 442.6L1323.9 465.8L1322.9 465.8L1320.8 440.1L1319.0 467.4L1318.2 467.4L1316.3 433.7L1314.7 455.3L1314.0 455.3L1313.0 434.8L1312.4 470.4L1311.7 470.4L1310.1 432.8L1309.1 465.0L1307.9 465.0L1306.5 436.2L1304.9 458.7L1304.3 458.7L1303.1 439.3L1302.2 473.0L1301.2 473.0L1300.1 450.5L1299.4 454.8L1298.4 454.8L1296.6 446.6L1294.9 456.8L1294.4 456.8L1293.3 448.9L1292.6 472.7L1291.6 472.7L1290.8 442.5L1289.9 460.1L1289.0 460.1L1288.0 440.3L1287.2 485.5L1286.5 485.5L1285.4 440.4L1284.7 467.8L1283.7 467.8L1281.9 446.9L1280.3 462.4L1279.2 462.4L1278.3 443.4L1277.4 479.9L1276.5 479.9L1275.3 444.9L1274.3 472.8L1273.2 472.8L1272.2 440.8L1271.4 468.9L1270.8 468.9L1269.5 440.1L1268.8 472.2L1267.8 472.2L1266.1 433.4L1264.6 471.7L1263.7 471.7L1262.6 443.9L1261.7 468.0L1260.6 468.0L1258.6 440.8L1257.1 465.5L1255.9 465.5L1254.2 448.8L1253.3 510.0L1252.7 510.0L1251.8 448.8L1251.0 451.0L1249.6 432.9L1248.0 447.2L1247.2 447.2L1246.2 435.2L1245.3 446.3L1244.4 446.3L1242.4 438.0L1240.7 449.4L1240.0 449.4L1238.8 436.2L1237.9 462.6L1237.3 462.6L1235.7 439.5L1234.9 461.5L1233.8 461.5L1233.0 437.6L1232.4 446.6L1231.3 446.6L1229.5 435.0L1227.9 467.5L1227.0 467.5L1225.7 425.0L1224.4 462.0L1223.7 462.0L1222.8 428.4L1222.1 447.8L1221.2 447.8L1220.6 430.5L1219.9 449.4L1219.4 449.4L1218.6 422.9L1217.9 444.8L1217.3 444.8L1215.3 438.5L1213.6 450.3L1213.0 450.3L1212.3 437.5L1211.6 455.3L1211.0 455.3L1208.9 435.4L1207.2 445.5L1206.1 445.5L1205.4 437.1L1204.8 448.1L1204.1 448.1L1202.7 435.6L1201.8 465.3L1200.8 465.3L1199.6 441.5L1198.7 458.1L1197.6 458.1L1196.5 443.9L1195.6 467.4L1194.6 467.4L1193.6 442.0L1192.8 457.3L1192.1 457.3L1191.0 433.1L1190.3 471.5L1189.8 471.5L1188.7 442.5L1188.0 458.0L1187.0 458.0L1185.9 449.1L1185.0 467.4L1184.4 467.4L1183.0 444.6L1182.3 456.0L1181.3 456.0L1180.2 451.9L1179.3 480.0L1178.7 480.0L1177.8 451.9L1176.8 442.3L1175.9 453.7L1174.7 453.7L1173.3 443.3L1171.8 466.9L1171.1 466.9L1169.9 445.5L1169.1 461.3L1168.2 461.3L1166.1 448.0L1164.4 463.7L1163.5 463.7L1162.4 444.7L1161.7 451.5L1160.7 451.5L1158.4 441.0L1156.5 466.3L1155.8 466.3L1154.9 441.6L1154.2 463.1L1153.5 463.1L1151.4 433.7L1149.6 442.8L1148.6 442.8L1147.2 422.5L1146.3 445.9L1145.3 445.9L1144.4 428.9L1143.5 454.9L1142.7 454.9L1140.5 432.5L1138.9 466.8L1138.1 466.8L1136.9 443.2L1136.1 469.3L1135.4 469.3L1134.1 440.4L1133.3 463.0L1132.2 463.0L1131.2 446.1L1130.5 455.5L1129.9 455.5L1128.6 435.9L1127.7 461.8L1127.0 461.8L1125.6 447.9L1124.8 469.2L1124.1 469.2L1122.7 448.3L1121.8 487.6L1120.8 487.6L1120.3 438.3L1119.6 455.6L1119.0 455.6L1117.6 445.4L1116.9 465.4L1115.8 465.4L1114.8 445.9L1114.0 454.0L1112.8 454.0L1112.1 448.1L1111.4 465.5L1110.2 465.5L1109.1 442.7L1108.4 452.0L1107.3 452.0L1105.9 440.6L1105.0 454.4L1104.2 454.4L1102.9 441.3L1102.2 462.5L1101.4 462.5L1100.5 432.6L1099.9 460.3L1099.0 460.3L1098.1 433.3L1097.4 464.0L1096.5 464.0L1095.2 430.4L1094.2 455.4L1093.5 455.4L1091.4 443.9L1089.6 460.0L1088.7 460.0L1087.5 437.4L1086.7 448.7L1085.5 448.7L1084.8 434.9L1084.1 462.9L1083.4 462.9L1082.5 432.3L1081.8 459.3L1081.0 459.3L1079.8 439.0L1079.2 445.5L1078.1 445.5L1076.8 440.6L1075.9 454.4L1075.2 454.4L1074.0 437.3L1073.0 449.9L1072.2 449.9L1071.5 433.9L1070.9 454.0L1070.3 454.0L1068.8 435.6L1068.0 446.3L1067.0 446.3L1065.0 431.0L1063.4 465.5L1062.2 465.5L1061.5 438.2L1060.6 463.1L1059.8 463.1L1058.9 427.8L1058.2 467.2L1057.1 467.2L1055.2 433.1L1053.3 449.1L1052.5 449.1L1051.5 427.4L1050.6 443.6L1049.9 443.6L1048.8 428.7L1048.0 442.9L1046.9 442.9L1045.8 425.9L1045.1 448.4L1044.4 448.4L1042.8 420.9L1041.9 438.3L1040.8 438.3L1039.7 423.5L1038.9 433.7L1037.9 433.7L1037.0 418.1L1036.3 433.3L1035.4 433.3L1033.3 418.9L1031.7 433.3L1030.8 433.3L1029.7 414.1L1029.1 440.3L1027.9 440.3L1027.1 417.5L1026.4 446.2L1025.3 446.2L1023.5 416.6L1021.9 440.6L1020.8 440.6L1019.5 409.2L1018.6 429.6L1017.9 429.6L1017.0 407.8L1016.2 422.2L1015.5 422.2L1014.2 397.3L1013.5 422.7L1012.7 422.7L1011.1 399.1L1010.2 431.4L1009.0 431.4L1007.9 391.6L1007.0 434.9L1006.5 434.9L1005.3 388.4L1004.4 425.9L1003.3 425.9L1002.5 383.9L1001.8 403.7L1001.1 403.7L1000.0 379.7L999.3 393.8L998.2 393.8L996.7 364.3L995.1 404.3L994.4 404.3L993.2 357.2L992.3 398.9L991.5 398.9L990.3 369.5L989.4 392.2L988.7 392.2L987.7 361.5L987.1 379.2L986.3 379.2L984.5 351.0L983.0 365.3L982.4 365.3L981.3 354.7L980.5 383.1Z" fill="#0b6a31" stroke="#0b6a31" stroke-width="2.0" stroke-linejoin="round"/>
<path d="M980.6 325.1L981.4 338.2L982.5 327.0L983.0 327.0L984.7 343.6L986.6 341.3L987.6 341.3L989.1 346.2L991.1 345.6L991.6 345.6L992.4 364.4L993.4 336.8L994.4 336.8L996.2 364.2L998.7 326.8L999.4 326.8L1001.1 376.9L1002.8 333.2L1003.9 333.2L1005.5 369.7L1007.5 341.0L1008.4 341.0L1010.0 397.6L1011.9 356.2L1012.6 356.2L1014.2 403.7L1015.8 379.6L1016.8 379.6L1017.4 406.7L1018.1 387.4L1019.3 387.4L1020.2 408.3L1021.7 396.8L1022.1 406.7L1022.4 395.8L1022.8 384.8L1023.2 373.9L1023.7 367.4L1024.0 364.3L1024.2 363.0L1024.8 363.0L1025.0 364.3L1025.3 367.4L1025.8 373.9L1026.2 384.8L1026.6 395.8L1026.9 406.7L1027.9 390.9L1029.0 390.9L1029.8 413.9L1031.2 402.3L1032.2 402.3L1033.9 409.3L1036.1 406.2L1037.1 406.2L1038.5 413.6L1040.4 410.3L1041.5 410.3L1041.7 419.0L1042.0 411.2L1042.4 403.5L1042.8 395.8L1043.2 391.1L1043.5 388.9L1043.8 388.0L1044.2 388.0L1044.5 388.9L1044.8 391.1L1045.2 395.8L1045.6 403.5L1046.0 411.2L1046.3 419.0L1046.3 401.1L1047.0 401.1L1048.5 432.4L1050.0 412.2L1051.1 412.2L1052.1 430.0L1053.7 412.8L1054.3 412.8L1055.2 434.8L1056.4 421.5L1057.4 421.5L1058.2 430.5L1058.9 413.1L1060.0 413.1L1060.8 425.8L1062.2 416.6L1063.3 416.6L1064.0 425.8L1065.4 410.8L1066.3 410.8L1068.0 432.8L1070.3 401.5L1071.3 401.5L1072.1 432.6L1073.5 420.5L1074.4 420.5L1076.1 437.3L1078.3 411.4L1078.8 411.4L1079.5 434.3L1080.2 420.6L1081.0 420.6L1082.0 429.4L1083.1 420.4L1084.3 420.4L1085.2 427.9L1086.5 418.4L1087.6 418.4L1088.5 432.3L1090.1 418.8L1090.8 418.8L1091.5 433.5L1092.3 413.5L1093.5 413.5L1094.9 428.4L1097.1 422.5L1097.8 422.5L1099.4 433.6L1101.3 423.8L1101.9 423.8L1102.6 440.5L1103.2 411.1L1104.3 411.1L1106.1 432.0L1108.1 427.0L1108.8 427.0L1109.5 435.1L1110.5 418.6L1111.3 418.6L1112.2 435.0L1113.1 407.3L1113.9 407.3L1114.8 444.0L1115.7 419.0L1116.8 419.0L1117.6 434.9L1118.6 414.6L1118.8 430.2L1119.3 417.9L1119.8 405.6L1120.4 393.3L1121.0 385.9L1121.4 382.5L1121.8 381.0L1122.2 381.0L1122.6 382.5L1123.0 385.9L1123.6 393.3L1124.2 405.6L1124.7 417.9L1125.2 430.2L1125.3 426.4L1127.1 436.9L1128.9 407.0L1130.0 407.0L1131.5 438.8L1133.5 403.4L1134.4 403.4L1136.1 427.5L1138.0 418.2L1138.9 418.2L1139.8 430.5L1141.0 415.1L1141.7 415.1L1142.6 425.0L1143.0 420.2L1143.5 368.1L1144.1 316.1L1144.9 264.0L1145.5 232.8L1146.0 218.2L1146.5 212.0L1147.0 212.0L1147.4 218.2L1147.9 232.8L1148.5 264.0L1149.3 316.1L1149.9 368.1L1150.4 420.2L1151.2 427.9L1153.1 407.0L1154.0 407.0L1154.6 437.4L1155.9 408.3L1156.5 408.3L1157.3 438.0L1158.2 406.5L1158.9 406.5L1159.8 440.7L1160.8 415.7L1161.4 415.7L1163.0 434.5L1164.7 420.7L1165.5 420.7L1167.1 440.4L1168.9 419.4L1170.0 419.4L1170.7 438.7L1171.9 408.3L1173.0 408.3L1173.7 443.2L1175.1 428.2L1175.8 428.2L1176.5 436.7L1177.2 412.7L1178.2 412.7L1179.7 440.6L1181.8 406.1L1182.8 406.1L1183.6 437.6L1184.6 426.0L1185.5 426.0L1186.3 442.9L1187.0 423.0L1188.2 423.0L1189.3 428.6L1189.7 412.5L1190.1 396.3L1190.6 380.2L1191.1 370.5L1191.5 365.9L1191.8 364.0L1192.2 364.0L1192.5 365.9L1192.9 370.5L1193.4 380.2L1193.9 396.3L1194.3 412.5L1194.7 428.6L1195.0 420.5L1195.7 420.5L1196.4 427.1L1197.5 417.2L1198.0 417.2L1198.9 431.8L1200.1 396.8L1201.0 396.8L1201.2 426.2L1201.5 414.1L1201.9 402.1L1202.3 390.0L1202.8 382.8L1203.1 379.4L1203.3 378.0L1203.8 378.0L1204.1 379.4L1204.4 382.8L1204.9 390.0L1205.3 402.1L1205.7 414.1L1206.0 426.2L1206.3 397.8L1207.4 397.8L1208.1 426.3L1209.1 414.6L1209.8 414.6L1210.7 437.2L1211.6 398.7L1212.5 398.7L1213.3 432.4L1214.3 397.1L1215.4 397.1L1217.2 426.5L1217.4 415.6L1217.9 371.7L1218.4 327.8L1219.0 283.9L1219.6 257.6L1220.0 245.3L1220.3 240.0L1220.8 240.0L1221.2 245.3L1221.6 257.6L1222.2 283.9L1222.8 327.8L1223.3 371.7L1223.8 415.6L1224.6 407.9L1225.6 421.4L1227.2 419.4L1227.7 419.4L1229.5 427.1L1231.1 411.0L1232.2 411.0L1233.0 437.9L1234.3 414.5L1235.1 414.5L1235.9 429.1L1236.9 420.5L1237.5 420.5L1238.4 438.2L1239.5 405.9L1240.7 405.9L1241.3 424.8L1242.4 414.2L1243.2 414.2L1244.2 435.0L1245.5 401.1L1246.1 401.1L1247.0 430.3L1247.8 421.9L1248.6 421.9L1249.5 436.3L1250.4 412.3L1251.3 412.3L1252.3 428.1L1253.6 418.9L1254.6 418.9L1255.5 426.5L1256.5 406.9L1257.4 406.9L1259.1 430.8L1260.1 427.9L1260.5 397.8L1260.9 367.7L1261.4 337.6L1261.9 319.5L1262.3 311.1L1262.5 307.5L1263.0 307.5L1263.3 311.1L1263.7 319.5L1264.2 337.6L1264.7 367.7L1265.1 397.8L1265.5 427.9L1266.3 414.9L1267.1 414.9L1267.9 439.8L1268.7 421.5L1269.8 421.5L1270.5 433.6L1271.2 403.1L1272.4 403.1L1273.2 434.3L1274.6 401.4L1275.2 401.4L1276.8 440.3L1278.5 418.4L1279.5 418.4L1281.1 442.1L1282.9 423.2L1283.6 423.2L1284.3 436.1L1285.2 421.3L1286.1 421.3L1287.1 435.7L1288.6 418.0L1289.3 418.0L1290.1 441.6L1291.3 421.3L1292.1 421.3L1292.9 440.1L1293.6 411.2L1294.1 428.6L1294.5 417.0L1294.9 405.3L1295.5 393.7L1296.0 386.7L1296.4 383.4L1296.8 382.0L1297.2 382.0L1297.6 383.4L1298.0 386.7L1298.5 393.7L1299.1 405.3L1299.5 417.0L1299.9 428.6L1300.5 435.4L1301.6 400.6L1302.6 400.6L1304.2 434.1L1306.3 421.5L1307.4 421.5L1309.0 439.6L1311.1 413.7L1311.9 413.7L1312.8 434.9L1313.8 413.9L1315.0 413.9L1315.8 430.4L1316.9 404.8L1318.0 404.8L1319.0 428.6L1320.4 408.3L1321.2 408.3L1321.9 434.2L1323.1 416.3L1323.9 416.3L1324.6 437.5L1325.2 417.2L1326.3 417.2L1327.8 431.0L1329.9 391.0L1330.5 391.0L1332.1 440.0L1334.1 418.6L1334.7 418.6L1335.6 437.5L1336.6 401.8L1337.7 401.8L1338.6 437.8L1340.1 423.8L1340.6 408.1L1341.1 392.4L1341.8 376.7L1342.4 367.3L1342.9 362.9L1343.2 361.0L1343.8 361.0L1344.1 362.9L1344.6 367.3L1345.2 376.7L1345.9 392.4L1346.4 408.1L1346.9 423.8L1347.1 416.5L1348.0 416.5L1349.5 429.9L1350.9 399.5L1352.1 399.5L1352.9 429.7L1353.7 394.2L1354.8 394.2L1356.5 425.6L1358.5 414.5L1359.7 414.5L1360.5 429.4L1361.8 391.7L1362.4 391.7L1364.1 420.4L1366.1 411.7L1366.9 411.7L1367.5 431.8L1368.5 394.7L1369.1 394.7L1369.8 424.8L1371.0 391.6L1371.8 391.6L1373.5 437.6L1375.6 417.1L1376.2 417.1L1376.3 424.1L1376.7 412.3L1377.1 400.6L1377.6 388.8L1378.1 381.7L1378.5 378.4L1378.8 377.0L1379.2 377.0L1379.5 378.4L1379.9 381.7L1380.4 388.8L1380.9 400.6L1381.3 412.3L1381.7 424.1L1382.3 415.1L1383.3 415.1L1384.0 431.0L1384.8 419.5L1385.8 419.5L1386.5 430.0L1387.9 408.6L1388.5 408.6L1389.1 438.2L1389.7 396.3L1390.6 396.3L1391.5 434.1L1392.7 416.3L1393.5 416.3L1394.4 443.5L1395.7 406.3L1396.4 406.3L1397.2 444.2L1397.8 416.0L1398.9 416.0L1399.7 426.2L1400.0 418.9L1400.4 411.6L1400.8 404.3L1401.2 399.9L1401.5 397.9L1401.8 397.0L1402.2 397.0L1402.5 397.9L1402.8 399.9L1403.2 404.3L1403.6 411.6L1404.0 418.9L1404.3 426.2L1404.7 435.5L1405.6 407.2L1406.7 407.2L1408.3 439.3L1409.9 412.1L1411.1 412.1L1411.8 435.4L1412.8 399.5L1413.7 399.5L1414.5 426.3L1415.4 400.5L1416.3 400.5L1417.0 426.2L1417.8 398.9L1418.8 398.9L1419.5 428.3L1420.2 417.1L1421.4 417.1L1422.2 421.1L1423.5 398.1L1424.6 398.1L1426.0 425.4L1427.7 405.6L1428.6 405.6L1429.3 430.8L1430.3 386.2L1430.9 386.2L1431.9 417.9L1432.9 395.4L1433.8 404.9L1434.2 385.2L1434.8 365.5L1435.6 345.7L1436.2 333.9L1436.7 328.4L1437.2 326.0L1437.7 326.0L1438.1 328.4L1438.6 333.9L1439.2 345.7L1440.0 365.5L1440.6 385.2L1441.1 404.9L1441.6 381.2L1442.2 407.0L1445.2 447.0L1446.0 447.0L1449.0 407.0L1449.8 341.6L1450.8 340.0L1451.2 340.0L1452.2 341.6L1453.2 345.2L1454.5 352.9L1456.1 365.9L1457.3 378.8L1458.3 391.8L1458.6 377.3L1459.3 412.7L1460.1 363.9L1460.8 363.9L1462.3 407.4L1464.1 389.0L1465.3 389.0L1466.8 400.7L1469.1 373.6L1469.9 373.6L1471.7 407.5L1473.8 403.9L1474.9 403.9L1476.5 423.9L1478.5 389.1L1479.1 389.1L1480.0 419.4L1480.9 412.9L1481.9 412.9L1483.3 427.7L1485.1 398.5L1486.2 398.5L1487.6 421.1L1487.9 413.8L1488.3 406.6L1488.7 399.3L1489.2 394.9L1489.5 392.9L1489.8 392.0L1490.2 392.0L1490.5 392.9L1490.8 394.9L1491.3 399.3L1491.7 406.6L1492.1 413.8L1492.4 421.1L1492.9 396.2L1493.6 396.2L1494.3 424.9L1495.1 408.7L1495.8 408.7L1497.6 430.6L1499.9 412.6L1500.7 412.6L1501.7 421.3L1502.6 401.7L1503.6 401.7L1504.5 427.8L1505.5 393.4L1506.7 393.4L1507.4 425.1L1508.2 402.2L1508.4 414.2L1508.9 394.1L1509.4 374.1L1510.0 354.0L1510.6 342.0L1511.0 336.4L1511.3 334.0L1511.8 334.0L1512.2 336.4L1512.6 342.0L1513.2 354.0L1513.8 374.1L1514.3 394.1L1514.8 414.2L1515.2 428.7L1516.1 404.8L1516.6 404.8L1517.6 418.9L1518.7 391.7L1519.4 391.7L1520.1 427.8L1521.1 397.8L1521.7 397.8L1523.4 419.6L1525.1 387.3L1525.7 387.3L1526.4 413.8L1527.1 365.3L1528.1 365.3L1529.9 418.0L1532.3 397.7L1532.9 397.7L1533.7 405.0L1534.5 386.8L1535.5 386.8L1537.2 399.7L1539.2 384.0L1540.0 384.0L1540.0 385.2L1540.6 360.6L1541.3 335.9L1542.1 311.2L1542.9 296.4L1543.5 289.5L1544.0 286.5L1544.5 286.5L1544.9 289.5L1545.5 296.4L1546.3 311.2L1547.1 335.9L1547.8 360.6L1548.4 385.2L1549.6 403.7L1551.2 385.6L1552.2 385.6L1553.9 395.7L1555.9 374.0L1556.4 374.0L1557.9 412.3L1559.9 374.4L1560.5 374.4L1561.5 413.6L1562.8 375.0L1563.5 375.0L1565.3 421.6L1567.2 376.2L1568.0 376.2L1569.4 422.0L1571.1 400.8L1572.0 400.8L1572.6 415.7L1573.6 384.5L1574.2 384.5L1574.9 420.7L1575.8 396.6L1576.5 396.6L1578.0 419.5L1578.3 405.5L1578.7 394.1L1579.1 382.7L1579.6 371.4L1580.1 364.5L1580.5 361.4L1580.8 360.0L1581.2 360.0L1581.5 361.4L1581.9 364.5L1582.4 371.4L1582.9 382.7L1583.3 394.1L1583.7 405.5L1585.3 412.6L1587.4 394.7L1588.1 394.7L1588.9 422.0L1589.9 400.0L1590.5 400.0L1592.0 415.1L1593.6 392.7L1594.6 392.7L1595.4 413.1L1596.3 393.5L1597.1 393.5L1597.7 422.7L1598.8 391.7L1599.4 391.7L1600.1 419.6L1601.0 398.3L1601.8 398.3L1602.7 421.1L1603.7 390.8L1604.6 390.8L1605.4 411.5L1606.6 400.8L1607.4 400.8L1609.0 410.8L1611.0 402.0L1611.6 402.0L1613.2 410.8L1614.9 407.4L1615.6 407.4L1616.4 421.2L1617.3 393.2L1618.4 393.2L1619.2 414.5L1620.5 401.7L1621.5 401.7L1622.4 417.3L1623.6 390.6L1624.4 390.6L1625.1 420.1L1626.2 402.5L1626.8 402.5L1628.3 425.1L1629.7 405.2L1630.5 405.2L1631.4 429.8L1632.5 378.7L1633.1 378.7L1633.9 431.0L1634.9 386.7L1635.7 386.7L1636.4 417.7L1637.5 383.4L1638.5 383.4L1639.3 423.3L1640.6 412.8L1641.0 398.4L1641.4 383.9L1641.9 369.5L1642.4 360.8L1642.8 356.7L1643.0 355.0L1643.5 355.0L1643.8 356.7L1644.2 360.8L1644.7 369.5L1645.2 383.9L1645.6 398.4L1646.0 412.8L1646.7 417.3L1648.1 372.0L1648.7 372.0L1649.4 416.1L1650.4 376.9L1651.0 376.9L1651.8 422.2L1652.7 400.1L1653.4 400.1L1654.2 412.7L1655.3 373.8L1656.1 373.8L1657.8 414.8L1659.6 374.3L1659.7 411.8L1660.0 402.6L1660.4 393.4L1660.8 384.2L1661.2 378.7L1661.5 376.1L1661.8 375.0L1662.2 375.0L1662.5 376.1L1662.8 378.7L1663.2 384.2L1663.6 393.4L1664.0 402.6L1664.3 411.8L1665.6 423.8L1667.2 379.7L1667.8 379.7L1668.6 426.8L1669.3 383.2L1670.4 383.2L1672.0 421.2L1674.0 396.2L1675.1 396.2L1676.0 414.0L1677.7 394.7L1678.3 394.7L1679.8 428.3L1681.7 405.9L1682.3 405.9L1684.1 428.9L1686.2 389.1L1687.2 389.1L1688.2 422.8L1689.7 406.2L1690.6 406.2L1691.4 422.2L1692.2 392.2L1693.0 392.2L1693.8 422.0L1694.7 388.4L1695.8 388.4L1697.3 423.4L1699.3 400.6L1700.3 400.6L1701.7 417.2L1703.4 386.7L1704.2 386.7L1704.9 415.9L1706.1 398.5L1706.3 406.3L1706.7 394.2L1707.1 382.2L1707.6 370.1L1708.1 362.8L1708.5 359.4L1708.8 358.0L1709.2 358.0L1709.5 359.4L1709.9 362.8L1710.4 370.1L1710.9 382.2L1711.3 394.2L1711.7 406.3L1713.3 392.7L1714.5 392.7L1715.2 413.8L1716.1 380.5L1717.2 380.5L1718.1 408.1L1719.4 380.5L1720.4 380.5L1721.2 402.7L1722.2 384.8L1723.1 384.8L1724.7 399.6L1725.0 390.5L1725.4 381.3L1725.8 372.2L1726.2 366.7L1726.5 364.1L1726.8 363.0L1727.2 363.0L1727.5 364.1L1727.8 366.7L1728.2 372.2L1728.6 381.3L1729.0 390.5L1729.3 399.6L1728.8 433.6L1727.7 416.9L1727.0 428.6L1726.0 428.6L1725.3 405.5L1724.7 448.7L1724.1 448.7L1722.6 413.5L1721.7 461.3L1720.9 461.3L1719.7 418.6L1718.9 462.1L1718.1 462.1L1716.1 418.6L1714.6 455.6L1713.8 455.6L1712.5 412.8L1711.6 435.3L1710.4 435.3L1709.3 419.9L1708.5 443.2L1707.8 443.2L1705.6 415.4L1705.2 435.4L1704.3 489.0L1703.7 489.0L1702.8 435.4L1701.5 427.0L1700.6 454.7L1699.4 454.7L1698.6 428.7L1697.7 437.7L1697.0 437.7L1695.6 418.0L1694.8 465.8L1694.0 465.8L1691.8 418.6L1691.0 437.3L1690.1 512.5L1689.5 512.5L1688.6 437.3L1688.1 432.1L1687.2 448.4L1686.5 448.4L1685.1 430.1L1684.2 468.8L1683.2 468.8L1681.9 431.4L1681.1 439.3L1680.2 439.3L1678.2 420.1L1676.6 445.9L1675.9 445.9L1674.7 429.1L1674.0 442.0L1673.4 442.0L1672.3 426.4L1671.7 444.5L1670.8 444.5L1669.0 423.2L1667.3 444.6L1666.5 444.6L1665.4 419.0L1664.7 447.6L1663.9 447.6L1662.7 415.4L1661.9 441.5L1661.1 441.5L1660.1 431.4L1659.8 438.6L1658.9 504.0L1658.3 504.0L1657.4 438.6L1657.2 422.2L1656.5 442.7L1655.4 442.7L1654.5 419.9L1653.8 474.8L1652.8 474.8L1651.9 423.7L1651.1 441.4L1650.4 441.4L1648.1 434.2L1646.3 449.6L1645.6 449.6L1644.6 428.2L1643.9 448.0L1642.9 448.0L1642.2 436.3L1641.4 455.8L1640.8 455.8L1639.7 429.1L1638.9 456.5L1638.0 456.5L1637.0 433.5L1636.3 456.9L1635.1 456.9L1634.1 419.2L1633.4 457.8L1632.3 457.8L1631.6 427.8L1630.9 442.4L1630.1 442.4L1629.0 427.4L1628.1 443.7L1627.6 443.7L1626.1 430.1L1625.4 448.9L1624.2 448.9L1622.7 422.4L1621.4 454.5L1620.2 454.5L1618.6 429.1L1617.0 453.3L1616.1 453.3L1615.1 420.6L1614.5 436.9L1613.5 436.9L1612.7 425.9L1611.9 438.8L1611.3 438.8L1609.2 416.7L1607.5 440.3L1607.2 436.1L1606.3 489.0L1605.7 489.0L1604.8 436.1L1604.4 448.2L1603.4 448.2L1602.6 416.8L1601.9 443.6L1601.2 443.6L1599.9 413.2L1599.0 440.6L1598.4 440.6L1597.0 428.8L1596.2 443.2L1595.0 443.2L1594.3 415.5L1593.6 441.9L1592.4 441.9L1590.6 421.1L1588.9 456.1L1588.3 456.1L1587.1 416.4L1586.4 456.0L1585.2 456.0L1584.4 412.5L1583.6 465.0L1583.0 465.0L1581.1 415.9L1579.5 437.2L1578.8 437.2L1577.8 414.4L1577.1 460.4L1576.2 460.4L1575.1 415.3L1574.1 448.9L1573.5 448.9L1572.3 414.6L1571.6 432.0L1570.4 432.0L1568.8 420.3L1567.3 443.9L1566.6 443.9L1565.0 425.6L1564.0 470.6L1563.0 470.6L1562.3 421.4L1561.5 457.0L1561.0 457.0L1558.7 411.1L1557.0 459.4L1556.2 459.4L1555.1 421.2L1554.4 440.5L1553.3 440.5L1552.2 413.9L1551.3 426.6L1550.1 426.6L1548.7 401.1L1547.0 418.9L1546.5 418.9L1545.3 403.4L1544.5 435.5L1543.7 435.5L1541.6 410.6L1539.9 425.0L1539.3 425.0L1537.9 411.1L1536.9 425.8L1536.0 425.8L1535.0 425.1L1534.0 454.7L1533.1 454.7L1532.3 415.6L1531.5 434.5L1531.0 434.5L1529.8 421.5L1529.0 455.0L1528.2 455.0L1527.0 429.2L1526.2 459.2L1525.2 459.2L1524.2 423.4L1523.4 455.2L1522.4 455.2L1521.5 435.4L1520.8 445.4L1519.8 445.4L1518.8 433.4L1518.0 452.2L1516.8 452.2L1516.0 422.3L1515.2 442.8L1514.6 442.8L1513.7 431.0L1512.8 458.8L1512.3 458.8L1510.2 430.6L1508.5 451.2L1507.8 451.2L1506.6 434.3L1505.8 441.0L1505.1 441.0L1504.8 441.9L1503.9 478.0L1503.3 478.0L1502.4 441.9L1502.1 436.2L1501.3 444.4L1500.5 444.4L1499.5 423.0L1498.8 460.7L1498.2 460.7L1495.9 431.9L1494.2 467.9L1493.2 467.9L1492.0 439.9L1491.1 446.7L1490.6 446.7L1488.4 432.1L1486.8 474.5L1485.7 474.5L1484.9 432.6L1484.2 451.8L1483.5 451.8L1481.2 428.0L1479.3 451.1L1478.5 451.1L1477.4 426.1L1476.4 449.1L1475.9 449.1L1473.8 426.8L1472.3 455.7L1471.2 455.7L1470.2 417.6L1469.5 449.6L1468.5 449.6L1467.9 412.2L1467.3 437.3L1466.4 437.3L1465.4 417.7L1464.8 448.2L1464.1 448.2L1463.2 419.2L1462.4 438.5L1461.9 438.5L1459.8 404.1L1458.2 453.7L1457.4 453.7L1456.4 401.3L1455.7 421.7L1454.8 421.7L1454.0 403.7L1453.2 431.1L1452.5 431.1L1450.4 407.3L1448.7 434.7L1448.1 434.7L1445.9 407.1L1444.3 434.1L1443.5 434.1L1442.5 416.5L1441.8 426.1L1440.8 426.1L1438.7 416.5L1437.0 438.4L1436.0 438.4L1434.7 422.0L1433.3 435.3L1432.7 435.3L1431.6 428.2L1430.9 457.1L1429.8 457.1L1428.5 426.9L1427.6 463.6L1426.5 463.6L1425.1 439.6L1423.6 456.8L1422.9 456.8L1421.8 427.8L1421.1 469.6L1420.1 469.6L1418.9 428.0L1418.2 474.2L1417.5 474.2L1415.2 442.4L1413.4 453.3L1412.9 453.3L1411.0 439.1L1409.4 456.8L1408.4 456.8L1407.8 443.9L1407.0 464.1L1406.5 464.1L1404.9 438.8L1404.1 460.3L1403.1 460.3L1401.7 435.5L1400.8 471.6L1400.1 471.6L1399.0 442.3L1398.1 457.5L1397.3 457.5L1396.3 433.9L1395.5 483.2L1394.6 483.2L1393.7 431.3L1392.7 458.7L1392.2 458.7L1390.7 440.8L1389.9 478.7L1389.1 478.7L1387.8 444.7L1386.9 461.7L1386.3 461.7L1385.1 431.5L1384.4 450.6L1383.4 450.6L1381.5 432.1L1380.1 467.4L1379.3 467.4L1378.2 427.6L1377.4 447.4L1376.7 447.4L1374.7 431.6L1372.9 447.4L1371.9 447.4L1371.2 447.6L1370.3 491.0L1369.7 491.0L1368.8 447.6L1367.9 426.7L1366.9 450.9L1366.2 450.9L1364.2 430.2L1362.5 475.1L1361.6 475.1L1360.9 431.3L1360.1 448.7L1359.4 448.7L1358.6 427.2L1357.9 454.4L1357.2 454.4L1356.4 437.2L1355.7 457.8L1354.9 457.8L1353.7 435.3L1353.1 452.4L1351.9 452.4L1351.1 445.1L1350.2 463.2L1349.2 463.2L1348.3 441.7L1347.7 452.5L1347.1 452.5L1345.3 436.2L1343.8 448.5L1342.9 448.5L1341.3 436.7L1339.8 455.8L1338.8 455.8L1337.6 437.9L1336.7 460.0L1335.9 460.0L1334.9 435.6L1334.0 459.2L1333.2 459.2L1332.2 449.6L1331.3 489.0L1330.7 489.0L1329.8 449.6L1329.6 444.0L1328.9 470.0L1327.9 470.0L1325.7 442.6L1323.9 465.8L1322.9 465.8L1320.8 440.1L1319.0 467.4L1318.2 467.4L1316.3 433.7L1314.7 455.3L1314.0 455.3L1313.0 434.8L1312.4 470.4L1311.7 470.4L1310.1 432.8L1309.1 465.0L1307.9 465.0L1306.5 436.2L1304.9 458.7L1304.3 458.7L1303.1 439.3L1302.2 473.0L1301.2 473.0L1300.1 450.5L1299.4 454.8L1298.4 454.8L1296.6 446.6L1294.9 456.8L1294.4 456.8L1293.3 448.9L1292.6 472.7L1291.6 472.7L1290.8 442.5L1289.9 460.1L1289.0 460.1L1288.0 440.3L1287.2 485.5L1286.5 485.5L1285.4 440.4L1284.7 467.8L1283.7 467.8L1281.9 446.9L1280.3 462.4L1279.2 462.4L1278.3 443.4L1277.4 479.9L1276.5 479.9L1275.3 444.9L1274.3 472.8L1273.2 472.8L1272.2 440.8L1271.4 468.9L1270.8 468.9L1269.5 440.1L1268.8 472.2L1267.8 472.2L1266.1 433.4L1264.6 471.7L1263.7 471.7L1262.6 443.9L1261.7 468.0L1260.6 468.0L1258.6 440.8L1257.1 465.5L1255.9 465.5L1254.2 448.8L1253.3 510.0L1252.7 510.0L1251.8 448.8L1251.0 451.0L1249.6 432.9L1248.0 447.2L1247.2 447.2L1246.2 435.2L1245.3 446.3L1244.4 446.3L1242.4 438.0L1240.7 449.4L1240.0 449.4L1238.8 436.2L1237.9 462.6L1237.3 462.6L1235.7 439.5L1234.9 461.5L1233.8 461.5L1233.0 437.6L1232.4 446.6L1231.3 446.6L1229.5 435.0L1227.9 467.5L1227.0 467.5L1225.7 425.0L1224.4 462.0L1223.7 462.0L1222.8 428.4L1222.1 447.8L1221.2 447.8L1220.6 430.5L1219.9 449.4L1219.4 449.4L1218.6 422.9L1217.9 444.8L1217.3 444.8L1215.3 438.5L1213.6 450.3L1213.0 450.3L1212.3 437.5L1211.6 455.3L1211.0 455.3L1208.9 435.4L1207.2 445.5L1206.1 445.5L1205.4 437.1L1204.8 448.1L1204.1 448.1L1202.7 435.6L1201.8 465.3L1200.8 465.3L1199.6 441.5L1198.7 458.1L1197.6 458.1L1196.5 443.9L1195.6 467.4L1194.6 467.4L1193.6 442.0L1192.8 457.3L1192.1 457.3L1191.0 433.1L1190.3 471.5L1189.8 471.5L1188.7 442.5L1188.0 458.0L1187.0 458.0L1185.9 449.1L1185.0 467.4L1184.4 467.4L1183.0 444.6L1182.3 456.0L1181.3 456.0L1180.2 451.9L1179.3 480.0L1178.7 480.0L1177.8 451.9L1176.8 442.3L1175.9 453.7L1174.7 453.7L1173.3 443.3L1171.8 466.9L1171.1 466.9L1169.9 445.5L1169.1 461.3L1168.2 461.3L1166.1 448.0L1164.4 463.7L1163.5 463.7L1162.4 444.7L1161.7 451.5L1160.7 451.5L1158.4 441.0L1156.5 466.3L1155.8 466.3L1154.9 441.6L1154.2 463.1L1153.5 463.1L1151.4 433.7L1149.6 442.8L1148.6 442.8L1147.2 422.5L1146.3 445.9L1145.3 445.9L1144.4 428.9L1143.5 454.9L1142.7 454.9L1140.5 432.5L1138.9 466.8L1138.1 466.8L1136.9 443.2L1136.1 469.3L1135.4 469.3L1134.1 440.4L1133.3 463.0L1132.2 463.0L1131.2 446.1L1130.5 455.5L1129.9 455.5L1128.6 435.9L1127.7 461.8L1127.0 461.8L1125.6 447.9L1124.8 469.2L1124.1 469.2L1122.7 448.3L1121.8 487.6L1120.8 487.6L1120.3 438.3L1119.6 455.6L1119.0 455.6L1117.6 445.4L1116.9 465.4L1115.8 465.4L1114.8 445.9L1114.0 454.0L1112.8 454.0L1112.1 448.1L1111.4 465.5L1110.2 465.5L1109.1 442.7L1108.4 452.0L1107.3 452.0L1105.9 440.6L1105.0 454.4L1104.2 454.4L1102.9 441.3L1102.2 462.5L1101.4 462.5L1100.5 432.6L1099.9 460.3L1099.0 460.3L1098.1 433.3L1097.4 464.0L1096.5 464.0L1095.2 430.4L1094.2 455.4L1093.5 455.4L1091.4 443.9L1089.6 460.0L1088.7 460.0L1087.5 437.4L1086.7 448.7L1085.5 448.7L1084.8 434.9L1084.1 462.9L1083.4 462.9L1082.5 432.3L1081.8 459.3L1081.0 459.3L1079.8 439.0L1079.2 445.5L1078.1 445.5L1076.8 440.6L1075.9 454.4L1075.2 454.4L1074.0 437.3L1073.0 449.9L1072.2 449.9L1071.5 433.9L1070.9 454.0L1070.3 454.0L1068.8 435.6L1068.0 446.3L1067.0 446.3L1065.0 431.0L1063.4 465.5L1062.2 465.5L1061.5 438.2L1060.6 463.1L1059.8 463.1L1058.9 427.8L1058.2 467.2L1057.1 467.2L1055.2 433.1L1053.3 449.1L1052.5 449.1L1051.5 427.4L1050.6 443.6L1049.9 443.6L1048.8 428.7L1048.0 442.9L1046.9 442.9L1045.8 425.9L1045.1 448.4L1044.4 448.4L1042.8 420.9L1041.9 438.3L1040.8 438.3L1039.7 423.5L1038.9 433.7L1037.9 433.7L1037.0 418.1L1036.3 433.3L1035.4 433.3L1033.3 418.9L1031.7 433.3L1030.8 433.3L1029.7 414.1L1029.1 440.3L1027.9 440.3L1027.1 417.5L1026.4 446.2L1025.3 446.2L1023.5 416.6L1021.9 440.6L1020.8 440.6L1019.5 409.2L1018.6 429.6L1017.9 429.6L1017.0 407.8L1016.2 422.2L1015.5 422.2L1014.2 397.3L1013.5 422.7L1012.7 422.7L1011.1 399.1L1010.2 431.4L1009.0 431.4L1007.9 391.6L1007.0 434.9L1006.5 434.9L1005.3 388.4L1004.4 425.9L1003.3 425.9L1002.5 383.9L1001.8 403.7L1001.1 403.7L1000.0 379.7L999.3 393.8L998.2 393.8L996.7 364.3L995.1 404.3L994.4 404.3L993.2 357.2L992.3 398.9L991.5 398.9L990.3 369.5L989.4 392.2L988.7 392.2L987.7 361.5L987.1 379.2L986.3 379.2L984.5 351.0L983.0 365.3L982.4 365.3L981.3 354.7L980.5 383.1Z" fill="#159148" stroke="#159148" stroke-width="1.0" stroke-linejoin="round"/>
<path d="M980.5 784.6L981.6 785.3L982.7 786.7L983.8 783.5L984.9 784.8L986.0 788.6L987.1 787.8L988.2 786.8L989.3 786.8L990.4 786.2L991.5 787.0L992.6 787.4L993.7 788.3L994.8 786.0L995.9 788.1L997.0 788.3L998.1 787.7L999.2 788.4L1000.3 784.1L1001.4 784.7L1002.5 785.9L1003.6 785.2L1004.7 785.6L1005.8 786.7L1006.9 788.3L1008.0 788.5L1009.1 788.8L1010.2 784.5L1011.3 788.7L1012.4 786.6L1013.5 784.8L1014.6 786.7L1015.7 784.0L1016.8 788.9L1017.9 787.9L1019.0 784.5L1020.1 787.7L1021.2 784.0L1022.3 784.0L1023.4 785.5L1024.5 788.9L1025.6 789.0L1026.7 784.2L1027.8 784.0L1028.9 785.9L1030.0 787.8L1031.1 785.5L1032.2 788.5L1033.3 786.2L1034.4 787.2L1035.5 786.8L1036.6 788.8L1037.7 786.1L1038.8 785.1L1039.9 789.0L1041.0 790.0L1042.1 789.1L1043.2 785.9L1044.3 784.6L1045.4 785.7L1046.5 788.7L1047.6 785.4L1048.7 787.0L1049.8 784.1L1050.9 787.3L1052.0 787.1L1053.1 785.0L1054.2 788.4L1055.3 788.1L1056.4 788.3L1057.5 787.6L1058.6 786.7L1059.7 785.5L1060.8 787.6L1061.9 784.6L1063.0 789.0L1064.1 785.3L1065.2 789.1L1066.3 788.0L1067.4 787.1L1068.5 785.0L1069.6 785.8L1070.7 787.1L1071.8 785.9L1072.9 784.6L1074.0 787.2L1075.1 786.9L1076.2 786.6L1077.3 785.7L1078.4 784.4L1079.5 785.3L1080.6 788.6L1081.7 786.9L1082.8 789.4L1083.9 784.4L1085.0 788.2L1086.1 789.3L1087.2 788.9L1088.3 788.8L1089.4 784.9L1090.5 784.5L1091.6 787.0L1092.7 788.9L1093.8 784.6L1094.9 785.0L1096.0 788.8L1097.1 784.7L1098.2 785.0L1099.3 789.4L1100.4 788.6L1101.5 785.5L1102.6 789.0L1103.7 785.6L1104.8 789.0L1105.9 789.1L1107.0 787.3L1108.1 788.3L1109.2 787.5L1110.3 784.6L1111.4 788.5L1112.5 785.1L1113.6 784.6L1114.7 786.5L1115.8 786.3L1116.9 785.9L1118.0 785.3L1119.1 783.6L1120.7 779.5L1121.3 780.6L1122.4 783.8L1123.5 785.1L1124.6 785.9L1125.7 786.1L1126.8 786.4L1127.9 786.1L1129.0 786.5L1130.1 787.7L1131.2 785.4L1132.3 787.7L1133.4 786.3L1134.5 788.6L1135.6 786.0L1136.7 788.1L1137.8 786.4L1138.9 788.2L1140.0 788.6L1141.1 787.5L1142.2 786.9L1143.3 783.8L1144.4 785.2L1145.5 786.7L1146.6 787.4L1147.7 788.2L1148.8 785.1L1149.9 787.4L1151.0 788.8L1152.1 784.8L1153.2 784.4L1154.3 788.7L1155.4 785.5L1156.5 788.1L1157.6 784.8L1158.7 787.0L1159.8 785.8L1160.9 785.9L1162.0 786.0L1163.1 786.4L1164.2 785.9L1165.3 784.6L1166.4 787.7L1167.5 786.4L1168.6 787.1L1169.7 784.5L1170.8 787.6L1171.9 786.4L1173.0 787.4L1174.1 785.0L1175.2 786.7L1176.3 784.8L1177.4 788.6L1178.5 787.3L1179.6 788.0L1180.7 785.0L1181.8 783.7L1182.9 785.6L1184.0 785.4L1185.1 787.6L1186.2 788.7L1187.3 786.6L1188.4 787.9L1189.5 786.4L1190.6 787.2L1191.7 785.6L1192.8 788.5L1193.9 784.7L1195.0 787.2L1196.1 788.4L1197.2 784.7L1198.3 784.8L1199.4 787.1L1200.5 788.1L1201.6 787.8L1202.7 785.5L1203.8 783.7L1204.9 787.6L1206.0 785.0L1207.1 789.9L1208.2 784.8L1209.3 783.5L1210.4 786.9L1211.5 783.7L1212.6 787.6L1213.7 785.2L1214.8 785.6L1215.9 785.6L1217.0 786.3L1218.1 785.1L1219.2 786.2L1220.3 786.9L1221.4 787.6L1222.5 785.6L1223.6 786.0L1224.7 782.9L1225.8 786.3L1226.9 785.8L1228.0 783.2L1229.1 787.2L1230.2 782.9L1231.3 787.1L1232.4 785.7L1233.5 783.8L1234.6 784.7L1235.7 785.8L1236.8 783.1L1237.9 785.1L1239.0 782.6L1240.1 782.3L1241.2 784.5L1242.3 785.6L1243.4 786.4L1244.5 784.2L1245.6 782.2L1246.7 787.0L1247.8 784.8L1248.9 784.6L1250.0 782.3L1251.1 784.6L1252.2 783.6L1253.3 782.2L1254.4 786.0L1255.5 784.3L1256.6 782.4L1257.7 783.3L1258.8 785.7L1259.9 783.4L1261.0 782.9L1262.1 782.9L1263.2 784.0L1264.3 785.8L1265.4 781.3L1266.5 784.4L1267.6 785.0L1268.7 781.9L1269.8 782.0L1270.9 782.0L1272.0 785.7L1273.1 781.4L1274.2 784.2L1275.3 783.2L1276.4 782.4L1277.5 783.3L1278.6 780.8L1279.7 782.3L1280.8 784.2L1281.9 784.9L1283.0 780.7L1284.1 785.7L1285.2 781.5L1286.3 781.4L1287.4 781.5L1288.5 784.4L1289.6 784.7L1290.7 782.3L1291.8 780.6L1292.9 781.3L1294.0 780.3L1295.1 783.7L1296.2 785.6L1297.3 781.9L1298.4 782.7L1299.5 777.9L1300.6 781.3L1301.7 784.3L1302.8 783.9L1303.9 782.4L1305.0 780.5L1306.1 782.0L1307.2 784.0L1308.3 778.1L1309.4 784.0L1310.5 779.7L1311.6 780.6L1312.7 781.9L1313.8 782.7L1314.9 780.0L1316.0 783.1L1317.1 783.4L1318.2 784.1L1319.3 780.5L1320.4 783.4L1321.5 780.9L1322.6 782.6L1323.7 778.9L1324.8 779.4L1325.9 781.5L1327.0 781.6L1328.1 783.6L1329.2 780.6L1330.3 780.6L1331.4 780.8L1332.5 782.0L1333.6 783.6L1334.7 780.8L1335.8 780.9L1336.9 780.8L1338.0 780.7L1339.1 780.5L1340.2 780.3L1341.3 780.1L1342.4 779.7L1343.5 779.0L1344.6 777.9L1345.7 775.9L1346.8 773.5L1347.4 773.0L1349.0 775.7L1350.1 777.6L1351.2 778.7L1352.3 778.3L1353.4 778.2L1354.5 779.8L1355.6 779.8L1356.7 779.9L1357.8 778.3L1358.9 778.3L1360.0 780.1L1361.1 777.9L1362.2 781.0L1363.3 777.7L1364.4 782.6L1365.5 780.5L1366.6 781.6L1367.7 781.6L1368.8 778.5L1369.9 777.9L1371.0 774.8L1372.1 778.4L1373.2 777.8L1374.3 778.5L1375.4 780.5L1376.5 781.2L1377.6 779.1L1378.7 779.5L1379.8 781.5L1380.9 781.4L1382.0 780.0L1383.1 780.9L1384.2 778.9L1385.3 777.4L1386.4 780.9L1387.5 780.4L1388.6 778.1L1389.7 782.1L1390.8 779.2L1391.9 778.0L1393.0 781.7L1394.1 781.4L1395.2 780.0L1396.3 779.6L1397.4 781.7L1398.5 781.7L1399.6 780.7L1400.7 781.9L1401.8 778.2L1402.9 777.6L1404.0 780.4L1405.1 779.3L1406.2 776.8L1407.3 778.0L1408.4 778.4L1409.5 780.5L1410.6 777.1L1411.7 778.7L1412.8 777.3L1413.9 780.1L1415.0 781.6L1416.1 778.4L1417.2 778.1L1418.3 778.8L1419.4 778.3L1420.5 777.9L1421.6 778.7L1422.7 777.9L1423.8 777.4L1424.9 778.4L1426.0 776.4L1427.1 776.3L1428.2 778.0L1429.3 777.7L1430.4 777.3L1431.5 776.8L1432.6 776.0L1433.7 774.8L1434.8 773.3L1435.9 771.8L1436.6 771.5L1438.1 772.8L1439.2 774.4L1440.3 775.6L1441.4 776.5L1442.5 777.1L1443.6 777.4L1444.7 773.8L1445.8 777.9L1446.9 778.0L1448.0 778.1L1449.1 778.2L1450.2 778.2L1451.3 776.9L1452.4 778.3L1453.5 778.1L1454.6 778.3L1455.7 778.3L1456.8 776.7L1457.9 778.6L1459.0 780.3L1460.1 780.7L1461.2 776.0L1462.3 778.7L1463.4 777.3L1464.5 780.5L1465.6 779.3L1466.7 778.4L1467.8 780.7L1468.9 776.7L1470.0 776.7L1471.1 780.0L1472.2 777.1L1473.3 780.6L1474.4 777.7L1475.5 776.3L1476.6 780.7L1477.7 776.8L1478.8 776.0L1479.9 779.4L1481.0 778.8L1482.1 775.6L1483.2 780.5L1484.3 776.9L1485.4 776.9L1486.5 775.7L1487.6 780.5L1488.7 780.2L1489.8 780.6L1490.9 778.8L1492.0 775.7L1493.1 776.3L1494.2 779.7L1495.3 775.6L1496.4 778.1L1497.5 775.9L1498.6 780.5L1499.7 776.0L1500.8 775.9L1501.9 780.0L1503.0 776.3L1504.1 780.4L1505.2 776.5L1506.3 780.2L1507.4 778.9L1508.5 775.3L1509.6 779.1L1510.7 778.1L1511.8 777.9L1512.9 777.9L1514.0 776.1L1515.1 779.9L1516.2 776.0L1517.3 779.4L1518.4 776.4L1519.5 775.3L1520.6 777.1L1521.7 772.4L1522.8 779.1L1523.9 778.5L1525.0 778.9L1526.1 777.7L1527.2 775.7L1528.3 776.6L1529.4 776.8L1530.5 776.7L1531.6 780.0L1532.7 779.3L1533.8 776.3L1534.9 776.2L1536.0 777.4L1537.1 776.6L1538.2 776.2L1539.3 777.1L1540.4 777.5L1541.5 779.8L1542.6 777.0L1543.7 775.0L1544.8 779.1L1545.9 775.0L1547.0 776.6L1548.1 776.5L1549.2 777.5L1550.3 776.8L1551.4 778.3L1552.5 776.1L1553.6 776.6L1554.7 777.9L1555.8 777.6L1556.9 775.6L1558.0 777.7L1559.1 774.9L1560.2 779.1L1561.3 777.2L1562.4 778.7L1563.5 779.2L1564.6 776.7L1565.7 776.7L1566.8 776.6L1567.9 775.8L1569.0 776.4L1570.1 776.3L1571.2 776.0L1572.3 775.7L1573.4 775.0L1574.5 774.5L1575.6 773.2L1576.7 771.1L1578.3 768.5L1578.9 769.0L1580.0 771.3L1581.1 773.3L1582.2 774.5L1583.3 774.6L1584.4 775.6L1585.5 775.3L1586.6 776.1L1587.7 774.3L1588.8 776.3L1589.9 775.3L1591.0 775.0L1592.1 776.4L1593.2 776.1L1594.3 776.4L1595.4 775.1L1596.5 775.7L1597.6 777.0L1598.7 776.6L1599.8 778.4L1600.9 777.6L1602.0 776.2L1603.1 778.3L1604.2 776.3L1605.3 774.7L1606.4 776.1L1607.5 776.3L1608.6 775.3L1609.7 775.3L1610.8 778.2L1611.9 777.4L1613.0 775.4L1614.1 775.0L1615.2 773.7L1616.3 777.2L1617.4 775.0L1618.5 774.2L1619.6 774.4L1620.7 775.2L1621.8 776.8L1622.9 776.4L1624.0 774.1L1625.1 775.1L1626.2 775.9L1627.3 773.2L1628.4 775.8L1629.5 775.6L1630.6 775.6L1631.7 775.1L1632.8 776.9L1633.9 775.1L1635.0 773.6L1636.1 774.7L1637.2 774.4L1638.3 773.6L1639.4 777.9L1640.5 777.0L1641.6 773.2L1642.7 775.5L1643.8 777.3L1644.9 775.4L1646.0 776.9L1647.1 777.3L1648.2 774.7L1649.3 773.4L1650.4 773.4L1651.5 776.1L1652.6 773.2L1653.7 774.9L1654.8 774.7L1655.9 775.2L1657.0 776.0L1658.1 775.9L1659.2 775.7L1660.3 775.0L1661.4 774.2L1662.5 773.7L1663.6 774.6L1664.7 773.2L1665.8 773.1L1666.9 773.9L1668.0 773.9L1669.1 773.3L1670.2 776.8L1671.3 773.1L1672.4 773.6L1673.5 772.3L1674.6 772.5L1675.7 776.8L1676.8 772.3L1677.9 775.6L1679.0 773.0L1680.1 773.5L1681.2 775.4L1682.3 775.1L1683.4 775.7L1684.5 774.3L1685.6 770.3L1686.7 770.5L1687.8 774.0L1688.9 775.8L1690.0 776.5L1691.1 772.3L1692.2 776.4L1693.3 773.7L1694.4 772.0L1695.5 774.6L1696.6 772.0L1697.7 774.3L1698.8 768.6L1699.9 774.3L1701.0 774.7L1702.1 774.4L1703.2 771.9L1704.3 771.3L1705.4 776.2L1706.5 773.5L1707.6 775.9L1708.7 775.0L1709.8 774.9L1710.9 774.2L1712.0 771.9L1713.1 774.8L1714.2 771.8L1715.3 771.1L1716.4 773.5L1717.5 773.6L1718.6 773.8L1719.7 771.6L1720.8 773.1L1721.9 775.5L1723.0 775.0L1724.1 773.4L1725.2 774.5L1726.3 772.6L1727.4 771.7L1728.5 775.1" stroke="#1d35a3" stroke-width="6.0" fill="none" stroke-linejoin="round" stroke-linecap="round"/>
<path d="M1452.4 507.5L1452.0 515.8L1451.1 590.1L1450.3 700.4L1449.5 755.5L1448.7 770.6L1447.5 778.9L1446.3 783.0L1460.3 783.0L1459.1 778.9L1457.9 770.6L1457.1 755.5L1456.3 700.4L1455.5 590.1L1454.6 515.8L1454.2 507.5Z" fill="#1d35a3" stroke="#1d35a3" stroke-width="0.8" stroke-linejoin="round"/>
<path d="M1146.5 704.0L1146.1 709.1L1145.4 746.5L1144.7 773.7L1144.0 782.2L1143.0 786.5L1141.4 789.0L1153.4 789.0L1151.8 786.5L1150.8 782.2L1150.1 773.7L1149.4 746.5L1148.7 709.1L1148.3 704.0Z" fill="#1d35a3" stroke="#1d35a3" stroke-width="0.8" stroke-linejoin="round"/>
<path d="M978.7 78V799.7H1735.3" stroke="#231f20" stroke-width="2.2" fill="none"/>
<path d="M1084.8 799.7v-14.5M1193 799.7v-14.5M1301.3 799.7v-14.5M1409 799.7v-14.5M1517.6 799.7v-14.5M1626 799.7v-14.5M1734.3 799.7v-14.5" stroke="#231f20" stroke-width="2.2" fill="none"/>
<path d="M978.6 61.6L986.6 80.2L978.6 76.4L970.6 80.2Z" fill="#231f20"/>
<text transform="translate(966.5,48.9) scale(1.27,1)" font-size="42" text-anchor="start" font-style="italic">I</text>
<text transform="translate(1334.6,33.8) scale(1.07,1)" font-size="40.5" text-anchor="middle">(б)</text>
<text transform="translate(980.2,848.2) scale(0.95,1)" font-size="42" text-anchor="middle">20</text>
<text transform="translate(1085.2,848.2) scale(0.95,1)" font-size="42" text-anchor="middle">30</text>
<text transform="translate(1192.8,848.2) scale(0.95,1)" font-size="42" text-anchor="middle">40</text>
<text transform="translate(1301.5,848.2) scale(0.95,1)" font-size="42" text-anchor="middle">50</text>
<text transform="translate(1409.3,848.2) scale(0.95,1)" font-size="42" text-anchor="middle">60</text>
<text transform="translate(1517.8,848.2) scale(0.95,1)" font-size="42" text-anchor="middle">70</text>
<text transform="translate(1626,848.2) scale(0.95,1)" font-size="42" text-anchor="middle">80</text>
<text transform="translate(1734.3,848.2) scale(0.95,1)" font-size="42" text-anchor="middle">90</text>
<text x="1317.6" y="886.4" font-size="40.5" text-anchor="start" textLength="142.5" lengthAdjust="spacingAndGlyphs">2θ, град</text>
<rect x="1015.8" y="339.6" width="17.4" height="17.4" rx="1" fill="#fff" stroke="#000" stroke-width="3.5"/>
<rect x="1115.7" y="354.2" width="17.4" height="17.4" rx="1" fill="#fff" stroke="#000" stroke-width="3.5"/>
<rect x="1140.0" y="187.8" width="17.4" height="17.4" rx="1" fill="#fff" stroke="#000" stroke-width="3.5"/>
<rect x="1197.0" y="355.4" width="17.4" height="17.4" rx="1" fill="#fff" stroke="#000" stroke-width="3.5"/>
<rect x="1288.5" y="355.4" width="17.4" height="17.4" rx="1" fill="#fff" stroke="#000" stroke-width="3.5"/>
<rect x="1336.1" y="337.1" width="17.4" height="17.4" rx="1" fill="#fff" stroke="#000" stroke-width="3.5"/>
<rect x="1370.2" y="355.0" width="17.4" height="17.4" rx="1" fill="#fff" stroke="#000" stroke-width="3.5"/>
<rect x="1429.4" y="301.1" width="17.4" height="17.4" rx="1" fill="#fff" stroke="#000" stroke-width="3.5"/>
<rect x="1441.7" y="316.1" width="17.4" height="17.4" rx="1" fill="#fff" stroke="#000" stroke-width="3.5"/>
<rect x="1502.2" y="310.1" width="17.4" height="17.4" rx="1" fill="#fff" stroke="#000" stroke-width="3.5"/>
<rect x="1535.5" y="262.9" width="17.4" height="17.4" rx="1" fill="#fff" stroke="#000" stroke-width="3.5"/>
<rect x="1573.1" y="337.0" width="17.4" height="17.4" rx="1" fill="#fff" stroke="#000" stroke-width="3.5"/>
<rect x="1633.9" y="333.7" width="17.4" height="17.4" rx="1" fill="#fff" stroke="#000" stroke-width="3.5"/>
<rect x="1034.3" y="365.0" width="18.4" height="18.4" rx="1.2" fill="#000"/>
<rect x="1181.4" y="338.9" width="18.4" height="18.4" rx="1.2" fill="#000"/>
<rect x="1211.7" y="215.1" width="18.4" height="18.4" rx="1.2" fill="#000"/>
<rect x="1252.4" y="283.4" width="18.4" height="18.4" rx="1.2" fill="#000"/>
<rect x="1393.3" y="375.4" width="18.4" height="18.4" rx="1.2" fill="#000"/>
<rect x="1481.1" y="367.5" width="18.4" height="18.4" rx="1.2" fill="#000"/>
<circle cx="1661.9" cy="360.7" r="7.8" fill="#fff" stroke="#000" stroke-width="3.4"/>
<rect x="1113.1" y="755.7" width="17.4" height="17.4" rx="1" fill="#fff" stroke="#000" stroke-width="3.5"/>
<rect x="1137.1" y="682.1" width="17.4" height="17.4" rx="1" fill="#fff" stroke="#000" stroke-width="3.5"/>
<rect x="1336.7" y="748.6" width="17.4" height="17.4" rx="1" fill="#fff" stroke="#000" stroke-width="3.5"/>
<rect x="1427.9" y="747.1" width="17.4" height="17.4" rx="1" fill="#fff" stroke="#000" stroke-width="3.5"/>
<rect x="1444.2" y="486.2" width="17.4" height="17.4" rx="1" fill="#fff" stroke="#000" stroke-width="3.5"/>
<rect x="1571.5" y="739.5" width="17.4" height="17.4" rx="1" fill="#fff" stroke="#000" stroke-width="3.5"/>
<text x="1096.3" y="746.6" font-size="27" text-anchor="start" textLength="40.3" lengthAdjust="spacingAndGlyphs">104</text>
<text x="1158.7" y="696.5" font-size="27" text-anchor="start" textLength="34" lengthAdjust="spacingAndGlyphs">110</text>
<text x="1364" y="764.5" font-size="27" text-anchor="start" textLength="35" lengthAdjust="spacingAndGlyphs">116</text>
<text x="1413.8" y="735.2" font-size="27.5" text-anchor="start" textLength="38.4" lengthAdjust="spacingAndGlyphs">214</text>
<text x="1467.7" y="503.8" font-size="27" text-anchor="start" textLength="41.5" lengthAdjust="spacingAndGlyphs">300</text>
<text x="1592.2" y="759.3" font-size="27" text-anchor="start" textLength="41" lengthAdjust="spacingAndGlyphs">220</text>
<rect x="1192.4" y="86.3" width="17.8" height="16.2" rx="1" fill="#fff" stroke="#000" stroke-width="3.4"/>
<rect x="1319.7" y="82.7" width="18.8" height="17.6" rx="1.2" fill="#000"/>
<text x="1220.9" y="98.5" font-size="24" textLength="62.4" lengthAdjust="spacingAndGlyphs">Fe<tspan font-size="17" dy="5">2</tspan><tspan dy="-5">O</tspan><tspan font-size="17" dy="5">3</tspan></text>
<text x="1350" y="98.5" font-size="27.6" textLength="209.8" lengthAdjust="spacingAndGlyphs">Fe<tspan font-size="20" dy="5.5">3</tspan><tspan dy="-5.5">W</tspan><tspan font-size="20" dy="5.5">3</tspan><tspan dy="-5.5">C-Fe</tspan><tspan font-size="20" dy="5.5">4</tspan><tspan dy="-5.5">W</tspan><tspan font-size="20" dy="5.5">2</tspan><tspan dy="-5.5">C</tspan></text>
<path d="M1533 224.5H1572" stroke="#14833d" stroke-width="3.1" stroke-linecap="round"/>
<text x="1580.8" y="234" font-size="33.3" text-anchor="start" textLength="88.6" lengthAdjust="spacingAndGlyphs">MC50</text>
<path d="M1533.4 539H1571.5" stroke="#1c2f96" stroke-width="3.0" stroke-linecap="round"/>
<text x="1576.4" y="549.8" font-size="33.3" text-anchor="start" textLength="124" lengthAdjust="spacingAndGlyphs">Сталь 35</text>
</g>
</svg>
</body></html>
